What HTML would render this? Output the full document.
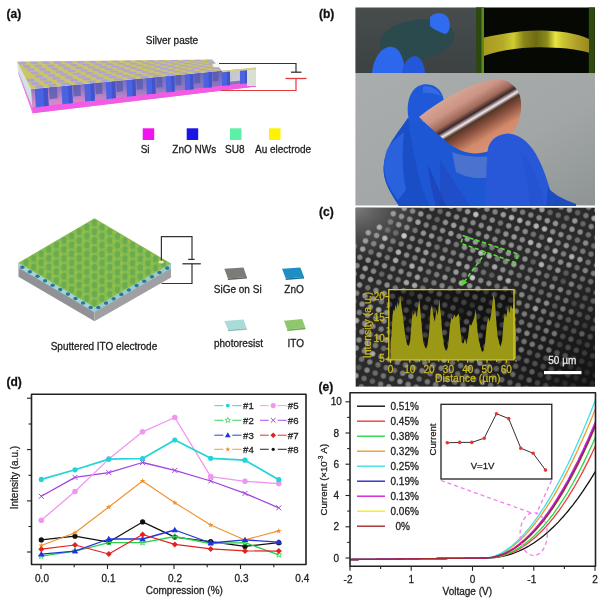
<!DOCTYPE html>
<html><head><meta charset="utf-8"><style>
html,body{margin:0;padding:0;background:#fff;}
body{width:600px;height:604px;overflow:hidden;font-family:"Liberation Sans",sans-serif;}
svg{display:block;filter:blur(0.5px);}
</style></head><body>
<svg width="600" height="604" viewBox="0 0 600 604">
<defs><linearGradient id="gFront" x1="0" y1="0" x2="0" y2="1"><stop offset="0" stop-color="#6466b8"/><stop offset="0.45" stop-color="#9078c0"/><stop offset="0.75" stop-color="#d688c8"/><stop offset="1" stop-color="#e68cd4"/></linearGradient><linearGradient id="gTL" x1="0" y1="0" x2="0" y2="1"><stop offset="0" stop-color="#474c4c"/><stop offset="1" stop-color="#3c4141"/></linearGradient>
<linearGradient id="gBot" x1="0" y1="0" x2="1" y2="1"><stop offset="0" stop-color="#a9adad"/><stop offset="0.6" stop-color="#a2a6a6"/><stop offset="1" stop-color="#8e9494"/></linearGradient>
<linearGradient id="gCu" gradientUnits="userSpaceOnUse" x1="440" y1="95" x2="478" y2="158">
<stop offset="0" stop-color="#dcac9c"/><stop offset="0.25" stop-color="#cc9484"/><stop offset="0.38" stop-color="#a06a5a"/><stop offset="0.45" stop-color="#3c2826"/><stop offset="0.505" stop-color="#f2eaf2"/><stop offset="0.55" stop-color="#553628"/><stop offset="0.66" stop-color="#8c5240"/><stop offset="0.82" stop-color="#d28a6a"/><stop offset="1" stop-color="#da9474"/></linearGradient>
<linearGradient id="gStrip" x1="0" y1="0" x2="1" y2="0"><stop offset="0" stop-color="#a89a22"/><stop offset="0.18" stop-color="#b4aa28"/><stop offset="0.28" stop-color="#d0cc30"/><stop offset="0.38" stop-color="#8a8418"/><stop offset="0.5" stop-color="#6e6c14"/><stop offset="0.6" stop-color="#8c8a1a"/><stop offset="0.68" stop-color="#e8e640"/><stop offset="0.75" stop-color="#ccc432"/><stop offset="0.88" stop-color="#b0a02a"/><stop offset="1" stop-color="#988a22"/></linearGradient>
<radialGradient id="gDark" cx="1" cy="1" r="0.75"><stop offset="0" stop-color="#000" stop-opacity="0.6"/><stop offset="1" stop-color="#000" stop-opacity="0"/></radialGradient>
<radialGradient id="gHaze" cx="0.0" cy="0.0" r="0.3"><stop offset="0" stop-color="#808080" stop-opacity="0.95"/><stop offset="1" stop-color="#6a6a6a" stop-opacity="0"/></radialGradient>

<clipPath id="clipC"><rect x="355.4" y="207.4" width="239.6" height="179.4"/></clipPath>
<radialGradient id="gDot"><stop offset="0" stop-color="#fff" stop-opacity="0.85"/><stop offset="0.6" stop-color="#fff" stop-opacity="0.7"/><stop offset="1" stop-color="#fff" stop-opacity="0"/></radialGradient><clipPath id="clipE"><rect x="350.0" y="392.7" width="245.5" height="173.6"/></clipPath></defs>
<rect width="600" height="604" fill="#fff"/>
<polygon points="17.0,61.5 31.0,89.0 32.5,113.2 18.5,74.0" fill="#cfe3e6" />
<polygon points="18.1,70.9 32.1,106.4 32.5,113.2 18.5,74.0" fill="#f07ae8" />
<polygon points="31.0,89.0 256.0,67.5 256.0,86.5 32.5,113.2" fill="url(#gFront)" />
<polygon points="48.9,87.3 57.0,86.5 57.6,98.3 49.6,99.2" fill="#5058b0" opacity="0.7"/>
<polygon points="73.0,85.0 80.3,84.3 80.9,95.8 73.7,96.6" fill="#5058b0" opacity="0.7"/>
<polygon points="95.2,82.9 102.0,82.2 102.5,93.5 95.7,94.2" fill="#5058b0" opacity="0.7"/>
<polygon points="116.1,80.9 122.7,80.2 123.1,91.3 116.6,92.0" fill="#5058b0" opacity="0.7"/>
<polygon points="136.4,78.9 142.7,78.3 143.1,89.1 136.8,89.8" fill="#5058b0" opacity="0.7"/>
<polygon points="156.1,77.1 162.2,76.5 162.6,87.0 156.4,87.7" fill="#5058b0" opacity="0.7"/>
<polygon points="175.3,75.2 181.3,74.6 181.6,85.0 175.5,85.6" fill="#5058b0" opacity="0.7"/>
<polygon points="194.1,73.4 200.1,72.8 200.3,83.0 194.3,83.6" fill="#5058b0" opacity="0.7"/>
<polygon points="212.6,71.6 218.5,71.1 218.6,81.0 212.8,81.6" fill="#5058b0" opacity="0.7"/>
<polygon points="230.9,69.9 236.7,69.3 236.7,79.1 231.0,79.7" fill="#5058b0" opacity="0.7"/>
<polygon points="248.9,68.2 254.6,67.6 254.6,77.2 248.9,77.8" fill="#5058b0" opacity="0.7"/>
<polygon points="32.1,107.2 256.0,81.8 256.0,86.5 32.5,113.2" fill="#f25ce4" />
<polygon points="222.0,70.7 256.0,67.5 256.0,78.9 222.1,82.6" fill="#d6dcd6" opacity="0.85"/>
<polygon points="34.8,89.1 47.6,87.9 48.7,105.8 35.9,107.2" fill="#4b63e0" />
<polygon points="43.1,88.3 47.6,87.9 48.7,105.8 44.1,106.3" fill="#4254cc" />
<polygon points="61.4,86.6 71.9,85.6 72.8,103.0 62.4,104.2" fill="#4b63e0" />
<polygon points="68.0,85.9 71.9,85.6 72.8,103.0 68.9,103.4" fill="#4254cc" />
<polygon points="84.3,84.4 94.1,83.4 94.9,100.5 85.2,101.6" fill="#4b63e0" />
<polygon points="90.4,83.8 94.1,83.4 94.9,100.5 91.3,100.9" fill="#4254cc" />
<polygon points="105.8,82.3 115.1,81.4 115.8,98.1 106.5,99.2" fill="#4b63e0" />
<polygon points="111.6,81.7 115.1,81.4 115.8,98.1 112.3,98.5" fill="#4254cc" />
<polygon points="126.4,80.3 135.4,79.5 136.0,95.8 127.0,96.8" fill="#4b63e0" />
<polygon points="132.0,79.8 135.4,79.5 136.0,95.8 132.6,96.2" fill="#4254cc" />
<polygon points="146.3,78.4 155.1,77.6 155.6,93.6 146.8,94.6" fill="#4b63e0" />
<polygon points="151.8,77.9 155.1,77.6 155.6,93.6 152.3,93.9" fill="#4254cc" />
<polygon points="165.7,76.5 174.3,75.7 174.7,91.4 166.2,92.4" fill="#4b63e0" />
<polygon points="171.1,76.0 174.3,75.7 174.7,91.4 171.5,91.8" fill="#4254cc" />
<polygon points="184.7,74.7 193.2,73.9 193.5,89.3 185.1,90.2" fill="#4b63e0" />
<polygon points="190.0,74.2 193.2,73.9 193.5,89.3 190.3,89.6" fill="#4254cc" />
<polygon points="203.4,72.9 211.7,72.1 211.9,87.2 203.7,88.1" fill="#4b63e0" />
<polygon points="208.6,72.4 211.7,72.1 211.9,87.2 208.8,87.5" fill="#4254cc" />
<polygon points="221.8,71.2 230.0,70.4 230.1,85.1 222.0,86.0" fill="#4b63e0" />
<polygon points="226.9,70.7 230.0,70.4 230.1,85.1 227.0,85.4" fill="#4254cc" />
<polygon points="239.9,69.4 248.0,68.7 248.0,83.0 240.0,84.0" fill="#4b63e0" />
<polygon points="244.9,68.9 248.0,68.7 248.0,83.0 245.0,83.4" fill="#4254cc" />
<polygon points="17.0,61.5 214.0,59.5 256.0,67.5 31.0,89.0" fill="#cdc468" />
<polygon points="36.3,88.2 43.9,87.5 42.4,84.8 34.8,85.5" fill="#aca4d4" />
<polygon points="32.0,85.0 39.6,84.4 38.0,81.7 30.6,82.3" fill="#aca4d4" />
<polygon points="27.8,81.8 35.2,81.3 33.7,78.6 26.4,79.1" fill="#aca4d4" />
<polygon points="49.5,87.0 57.2,86.2 55.4,83.7 47.9,84.4" fill="#aca4d4" />
<polygon points="45.0,83.9 52.6,83.3 50.9,80.7 43.4,81.3" fill="#aca4d4" />
<polygon points="40.6,80.8 48.0,80.3 46.4,77.7 39.0,78.2" fill="#aca4d4" />
<polygon points="36.3,77.7 43.6,77.2 42.0,74.7 34.7,75.1" fill="#aca4d4" />
<polygon points="32.0,74.5 39.2,74.1 37.6,71.5 30.5,71.9" fill="#aca4d4" />
<polygon points="27.9,71.3 34.9,71.0 33.4,68.3 26.4,68.6" fill="#aca4d4" />
<polygon points="23.8,68.0 30.7,67.8 29.2,65.1 22.3,65.3" fill="#aca4d4" />
<polygon points="19.8,64.6 26.6,64.5 25.1,61.8 18.3,61.9" fill="#aca4d4" />
<polygon points="62.7,85.7 70.4,85.0 68.5,82.6 60.9,83.2" fill="#aca4d4" />
<polygon points="58.0,82.8 65.6,82.2 63.7,79.7 56.3,80.3" fill="#aca4d4" />
<polygon points="53.4,79.9 60.9,79.3 59.0,76.9 51.7,77.4" fill="#aca4d4" />
<polygon points="48.9,76.9 56.2,76.4 54.4,73.9 47.2,74.4" fill="#aca4d4" />
<polygon points="44.4,73.8 51.6,73.5 49.9,71.0 42.8,71.3" fill="#aca4d4" />
<polygon points="40.1,70.7 47.1,70.4 45.4,67.9 38.4,68.2" fill="#aca4d4" />
<polygon points="35.8,67.6 42.7,67.4 41.0,64.8 34.1,65.0" fill="#aca4d4" />
<polygon points="31.5,64.4 38.4,64.2 36.7,61.7 30.0,61.8" fill="#aca4d4" />
<polygon points="75.9,84.5 83.6,83.7 81.5,81.4 74.0,82.1" fill="#aca4d4" />
<polygon points="71.0,81.7 78.6,81.1 76.6,78.8 69.1,79.3" fill="#aca4d4" />
<polygon points="66.2,78.9 73.7,78.4 71.7,76.0 64.3,76.5" fill="#aca4d4" />
<polygon points="61.5,76.1 68.8,75.6 66.8,73.2 59.6,73.6" fill="#aca4d4" />
<polygon points="56.8,73.2 64.0,72.8 62.1,70.4 55.0,70.7" fill="#aca4d4" />
<polygon points="52.2,70.2 59.3,69.9 57.4,67.5 50.4,67.7" fill="#aca4d4" />
<polygon points="47.7,67.2 54.7,67.0 52.8,64.6 46.0,64.7" fill="#aca4d4" />
<polygon points="43.3,64.1 50.1,64.0 48.3,61.6 41.6,61.6" fill="#aca4d4" />
<polygon points="89.2,83.2 96.8,82.5 94.6,80.3 87.0,81.0" fill="#aca4d4" />
<polygon points="84.1,80.6 91.6,80.0 89.4,77.8 82.0,78.3" fill="#aca4d4" />
<polygon points="79.0,78.0 86.5,77.4 84.3,75.2 77.0,75.7" fill="#aca4d4" />
<polygon points="74.1,75.2 81.4,74.8 79.3,72.5 72.1,72.9" fill="#aca4d4" />
<polygon points="69.2,72.5 76.4,72.1 74.3,69.8 67.2,70.2" fill="#aca4d4" />
<polygon points="64.4,69.7 71.5,69.4 69.4,67.1 62.5,67.3" fill="#aca4d4" />
<polygon points="59.7,66.8 66.7,66.6 64.6,64.3 57.8,64.4" fill="#aca4d4" />
<polygon points="55.1,63.9 61.9,63.7 59.9,61.4 53.2,61.5" fill="#aca4d4" />
<polygon points="102.4,81.9 110.0,81.2 107.7,79.2 100.1,79.8" fill="#aca4d4" />
<polygon points="97.1,79.5 104.6,78.8 102.3,76.8 94.8,77.3" fill="#aca4d4" />
<polygon points="91.8,77.0 99.3,76.4 96.9,74.3 89.6,74.8" fill="#aca4d4" />
<polygon points="86.7,74.4 94.0,73.9 91.7,71.8 84.5,72.2" fill="#aca4d4" />
<polygon points="81.6,71.8 88.8,71.4 86.5,69.3 79.5,69.6" fill="#aca4d4" />
<polygon points="76.6,69.1 83.7,68.8 81.5,66.7 74.5,66.9" fill="#aca4d4" />
<polygon points="71.7,66.4 78.7,66.2 76.5,64.0 69.6,64.2" fill="#aca4d4" />
<polygon points="66.9,63.6 73.7,63.5 71.5,61.3 64.8,61.4" fill="#aca4d4" />
<polygon points="115.6,80.7 123.3,80.0 120.7,78.0 113.1,78.7" fill="#aca4d4" />
<polygon points="110.1,78.4 117.6,77.7 115.1,75.8 107.7,76.3" fill="#aca4d4" />
<polygon points="104.7,76.0 112.1,75.5 109.6,73.5 102.3,74.0" fill="#aca4d4" />
<polygon points="99.3,73.6 106.6,73.1 104.1,71.1 96.9,71.5" fill="#aca4d4" />
<polygon points="94.0,71.1 101.2,70.7 98.8,68.7 91.7,69.0" fill="#aca4d4" />
<polygon points="88.8,68.6 95.9,68.3 93.5,66.2 86.5,66.5" fill="#aca4d4" />
<polygon points="83.7,66.0 90.6,65.8 88.3,63.7 81.4,63.9" fill="#aca4d4" />
<polygon points="78.6,63.4 85.5,63.2 83.1,61.1 76.4,61.2" fill="#aca4d4" />
<polygon points="128.8,79.4 136.5,78.7 133.8,76.9 126.2,77.5" fill="#aca4d4" />
<polygon points="123.1,77.3 130.6,76.6 128.0,74.8 120.5,75.4" fill="#aca4d4" />
<polygon points="117.5,75.1 124.9,74.5 122.2,72.6 114.9,73.1" fill="#aca4d4" />
<polygon points="111.9,72.8 119.2,72.3 116.6,70.4 109.4,70.8" fill="#aca4d4" />
<polygon points="106.4,70.4 113.6,70.1 111.0,68.1 103.9,68.5" fill="#aca4d4" />
<polygon points="101.0,68.1 108.1,67.8 105.5,65.8 98.5,66.1" fill="#aca4d4" />
<polygon points="95.7,65.6 102.6,65.4 100.1,63.4 93.2,63.6" fill="#aca4d4" />
<polygon points="90.4,63.1 97.3,63.0 94.8,61.0 88.0,61.1" fill="#aca4d4" />
<polygon points="142.0,78.2 149.7,77.5 146.8,75.7 139.2,76.4" fill="#aca4d4" />
<polygon points="136.1,76.2 143.7,75.5 140.8,73.8 133.4,74.4" fill="#aca4d4" />
<polygon points="130.3,74.1 137.7,73.5 134.9,71.8 127.5,72.3" fill="#aca4d4" />
<polygon points="124.5,72.0 131.8,71.5 129.0,69.7 121.8,70.1" fill="#aca4d4" />
<polygon points="118.8,69.8 126.0,69.4 123.2,67.6 116.1,67.9" fill="#aca4d4" />
<polygon points="113.2,67.5 120.3,67.2 117.5,65.4 110.6,65.6" fill="#aca4d4" />
<polygon points="107.7,65.2 114.6,65.0 111.9,63.2 105.1,63.3" fill="#aca4d4" />
<polygon points="102.2,62.9 109.0,62.7 106.4,60.9 99.6,61.0" fill="#aca4d4" />
<polygon points="155.2,76.9 162.9,76.2 159.9,74.6 152.3,75.3" fill="#aca4d4" />
<polygon points="149.1,75.1 156.7,74.4 153.7,72.8 146.2,73.4" fill="#aca4d4" />
<polygon points="143.1,73.1 150.5,72.6 147.5,70.9 140.2,71.4" fill="#aca4d4" />
<polygon points="137.1,71.1 144.4,70.7 141.5,69.0 134.2,69.4" fill="#aca4d4" />
<polygon points="131.2,69.1 138.4,68.7 135.5,67.0 128.4,67.3" fill="#aca4d4" />
<polygon points="125.4,67.0 132.5,66.7 129.6,65.0 122.6,65.2" fill="#aca4d4" />
<polygon points="119.6,64.8 126.6,64.6 123.7,62.9 116.9,63.0" fill="#aca4d4" />
<polygon points="114.0,62.6 120.8,62.5 118.0,60.7 111.2,60.8" fill="#aca4d4" />
<polygon points="168.5,75.7 176.1,75.0 172.9,73.5 165.4,74.1" fill="#aca4d4" />
<polygon points="162.1,73.9 169.7,73.3 166.5,71.8 159.1,72.4" fill="#aca4d4" />
<polygon points="155.9,72.2 163.3,71.6 160.2,70.1 152.8,70.6" fill="#aca4d4" />
<polygon points="149.7,70.3 157.0,69.8 153.9,68.3 146.7,68.7" fill="#aca4d4" />
<polygon points="143.6,68.4 150.8,68.0 147.7,66.4 140.6,66.8" fill="#aca4d4" />
<polygon points="137.6,66.5 144.6,66.1 141.6,64.5 134.6,64.8" fill="#aca4d4" />
<polygon points="131.6,64.5 138.6,64.2 135.6,62.6 128.7,62.8" fill="#aca4d4" />
<polygon points="125.8,62.4 132.6,62.2 129.6,60.6 122.9,60.7" fill="#aca4d4" />
<polygon points="181.7,74.4 189.4,73.7 186.0,72.3 178.4,73.0" fill="#aca4d4" />
<polygon points="175.1,72.8 182.7,72.2 179.4,70.8 171.9,71.4" fill="#aca4d4" />
<polygon points="168.7,71.2 176.1,70.6 172.8,69.2 165.5,69.7" fill="#aca4d4" />
<polygon points="162.3,69.5 169.6,69.0 166.3,67.6 159.1,68.0" fill="#aca4d4" />
<polygon points="156.0,67.7 163.2,67.3 159.9,65.9 152.8,66.2" fill="#aca4d4" />
<polygon points="149.8,65.9 156.8,65.6 153.6,64.1 146.6,64.4" fill="#aca4d4" />
<polygon points="143.6,64.1 150.6,63.8 147.4,62.3 140.5,62.5" fill="#aca4d4" />
<polygon points="137.5,62.1 144.4,62.0 141.2,60.5 134.5,60.6" fill="#aca4d4" />
<polygon points="194.9,73.2 202.6,72.4 199.0,71.2 191.5,71.8" fill="#aca4d4" />
<polygon points="188.2,71.7 195.7,71.1 192.2,69.8 184.7,70.4" fill="#aca4d4" />
<polygon points="181.5,70.2 188.9,69.7 185.4,68.4 178.1,68.8" fill="#aca4d4" />
<polygon points="174.9,68.7 182.2,68.2 178.8,66.9 171.6,67.3" fill="#aca4d4" />
<polygon points="168.4,67.0 175.6,66.7 172.2,65.3 165.1,65.6" fill="#aca4d4" />
<polygon points="162.0,65.4 169.0,65.1 165.6,63.7 158.7,64.0" fill="#aca4d4" />
<polygon points="155.6,63.7 162.5,63.4 159.2,62.0 152.3,62.2" fill="#aca4d4" />
<polygon points="149.3,61.9 156.1,61.7 152.8,60.3 146.1,60.4" fill="#aca4d4" />
<polygon points="208.1,71.9 215.8,71.2 212.1,70.0 204.5,70.7" fill="#aca4d4" />
<polygon points="201.2,70.6 208.7,70.0 205.0,68.8 197.6,69.4" fill="#aca4d4" />
<polygon points="194.3,69.3 201.7,68.7 198.1,67.5 190.8,68.0" fill="#aca4d4" />
<polygon points="187.5,67.8 194.8,67.4 191.2,66.2 184.0,66.6" fill="#aca4d4" />
<polygon points="180.8,66.4 188.0,66.0 184.4,64.7 177.3,65.1" fill="#aca4d4" />
<polygon points="174.1,64.8 181.2,64.5 177.7,63.3 170.7,63.5" fill="#aca4d4" />
<polygon points="167.6,63.3 174.5,63.0 171.0,61.8 164.2,61.9" fill="#aca4d4" />
<polygon points="161.1,61.6 167.9,61.5 164.4,60.2 157.7,60.3" fill="#aca4d4" />
<polygon points="221.3,70.7 229.0,69.9 225.1,68.9 217.6,69.6" fill="#aca4d4" />
<polygon points="214.2,69.5 221.7,68.9 217.9,67.8 210.4,68.4" fill="#aca4d4" />
<polygon points="207.1,68.3 214.5,67.7 210.7,66.7 203.4,67.1" fill="#aca4d4" />
<polygon points="200.1,67.0 207.4,66.5 203.6,65.4 196.4,65.9" fill="#aca4d4" />
<polygon points="193.2,65.7 200.4,65.3 196.6,64.2 189.5,64.5" fill="#aca4d4" />
<polygon points="186.3,64.3 193.4,64.0 189.7,62.9 182.7,63.1" fill="#aca4d4" />
<polygon points="179.6,62.9 186.5,62.7 182.8,61.5 176.0,61.7" fill="#aca4d4" />
<polygon points="172.9,61.4 179.7,61.2 176.0,60.1 169.3,60.1" fill="#aca4d4" />
<polygon points="234.6,69.4 242.2,68.7 238.2,67.8 230.6,68.4" fill="#aca4d4" />
<polygon points="227.2,68.4 234.7,67.7 230.7,66.8 223.3,67.4" fill="#aca4d4" />
<polygon points="219.9,67.3 227.3,66.8 223.4,65.8 216.0,66.3" fill="#aca4d4" />
<polygon points="212.7,66.2 220.0,65.7 216.1,64.7 208.9,65.1" fill="#aca4d4" />
<polygon points="205.6,65.0 212.8,64.6 208.9,63.6 201.8,63.9" fill="#aca4d4" />
<polygon points="198.5,63.8 205.6,63.5 201.7,62.4 194.7,62.7" fill="#aca4d4" />
<polygon points="191.5,62.5 198.5,62.3 194.6,61.2 187.8,61.4" fill="#aca4d4" />
<polygon points="184.6,61.1 191.5,61.0 187.7,59.9 180.9,60.0" fill="#aca4d4" />
<polygon points="247.8,68.2 255.4,67.4 251.2,66.6 243.7,67.3" fill="#aca4d4" />
<polygon points="240.2,67.3 247.8,66.6 243.6,65.8 236.1,66.4" fill="#aca4d4" />
<polygon points="232.7,66.4 240.1,65.8 236.0,64.9 228.7,65.4" fill="#aca4d4" />
<polygon points="225.3,65.4 232.6,64.9 228.5,64.0 221.3,64.4" fill="#aca4d4" />
<polygon points="218.0,64.3 225.2,63.9 221.1,63.0 214.0,63.4" fill="#aca4d4" />
<polygon points="210.7,63.2 217.8,62.9 213.7,62.0 206.8,62.3" fill="#aca4d4" />
<polygon points="203.5,62.1 210.5,61.9 206.5,60.9 199.6,61.1" fill="#aca4d4" />
<polygon points="196.4,60.9 203.3,60.8 199.3,59.8 192.5,59.9" fill="#aca4d4" />
<polygon points="215.5,61.7 222.5,61.5 218.3,60.7 211.4,60.8" fill="#aca4d4" />
<polygon points="208.2,60.6 215.0,60.5 210.9,59.7 204.1,59.7" fill="#aca4d4" />
<polygon points="247.0,68.0 256.0,68.5 256.0,86.0 247.0,86.0" fill="#d7e0d2" />
<polygon points="212.0,59.3 258.0,59.3 258.0,67.4 222.0,70.7" fill="#ffffff" />
<polygon points="222.0,70.7 256.0,67.5 256.0,69.5 222.0,72.3" fill="#d8cf86" />
<ellipse cx="216.5" cy="65.3" rx="4" ry="1.9" fill="#f6f6f6"/>
<path d="M219 63.5 H296 V72" fill="none" stroke="#333" stroke-width="1.2"/>
<path d="M291 72.2 H301.5" stroke="#333" stroke-width="1.3"/>
<path d="M285.5 78.5 H306.5" stroke="#e23b3b" stroke-width="1.3"/>
<path d="M296 78.5 V90.5 H221" fill="none" stroke="#e23b3b" stroke-width="1.2"/>
<text x="145.8" y="43.6" font-size="10" fill="#222" font-family="Liberation Sans, sans-serif" stroke="#222" stroke-width="0.28">Silver paste</text>
<rect x="142.7" y="128.3" width="11.5" height="11.7" fill="#f214ee"/>
<rect x="186.7" y="128.3" width="11.5" height="11.7" fill="#1a14e6"/>
<rect x="230.0" y="128.3" width="11.5" height="11.7" fill="#5cf0a6"/>
<rect x="269.0" y="128.3" width="11.5" height="11.7" fill="#fff200"/>
<text x="140.7" y="153.3" font-size="10" fill="#222" font-family="Liberation Sans, sans-serif" stroke="#222" stroke-width="0.28">Si</text>
<text x="172.3" y="153.3" font-size="10" fill="#222" font-family="Liberation Sans, sans-serif" stroke="#222" stroke-width="0.28">ZnO NWs</text>
<text x="225.0" y="153.3" font-size="10" fill="#222" font-family="Liberation Sans, sans-serif" stroke="#222" stroke-width="0.28">SU8</text>
<text x="255.0" y="153.3" font-size="10" fill="#222" font-family="Liberation Sans, sans-serif" stroke="#222" stroke-width="0.28">Au electrode</text>
<polygon points="18.5,262.7 94.5,307.3 94.5,321.3 18.5,276.7" fill="#929296" />
<polygon points="94.5,307.3 171.0,263.5 171.0,277.5 94.5,321.3" fill="#a0a0a4" />
<polygon points="18.5,262.7 94.5,307.3 94.5,312.3 18.5,267.7" fill="#a6d2d2" />
<polygon points="94.5,307.3 171.0,263.5 171.0,268.5 94.5,312.3" fill="#9ccaca" />
<ellipse cx="22.3" cy="267.3" rx="2.2" ry="1.8" fill="#237aa0"/>
<ellipse cx="98.3" cy="307.5" rx="2.2" ry="1.8" fill="#237aa0"/>
<ellipse cx="29.9" cy="271.8" rx="2.2" ry="1.8" fill="#237aa0"/>
<ellipse cx="106.0" cy="303.1" rx="2.2" ry="1.8" fill="#237aa0"/>
<ellipse cx="37.5" cy="276.2" rx="2.2" ry="1.8" fill="#237aa0"/>
<ellipse cx="113.6" cy="298.8" rx="2.2" ry="1.8" fill="#237aa0"/>
<ellipse cx="45.1" cy="280.7" rx="2.2" ry="1.8" fill="#237aa0"/>
<ellipse cx="121.3" cy="294.4" rx="2.2" ry="1.8" fill="#237aa0"/>
<ellipse cx="52.7" cy="285.2" rx="2.2" ry="1.8" fill="#237aa0"/>
<ellipse cx="128.9" cy="290.0" rx="2.2" ry="1.8" fill="#237aa0"/>
<ellipse cx="60.3" cy="289.6" rx="2.2" ry="1.8" fill="#237aa0"/>
<ellipse cx="136.6" cy="285.6" rx="2.2" ry="1.8" fill="#237aa0"/>
<ellipse cx="67.9" cy="294.1" rx="2.2" ry="1.8" fill="#237aa0"/>
<ellipse cx="144.2" cy="281.2" rx="2.2" ry="1.8" fill="#237aa0"/>
<ellipse cx="75.5" cy="298.5" rx="2.2" ry="1.8" fill="#237aa0"/>
<ellipse cx="151.9" cy="276.8" rx="2.2" ry="1.8" fill="#237aa0"/>
<ellipse cx="83.1" cy="303.0" rx="2.2" ry="1.8" fill="#237aa0"/>
<ellipse cx="159.5" cy="272.5" rx="2.2" ry="1.8" fill="#237aa0"/>
<ellipse cx="90.7" cy="307.5" rx="2.2" ry="1.8" fill="#237aa0"/>
<ellipse cx="167.2" cy="268.1" rx="2.2" ry="1.8" fill="#237aa0"/>
<polygon points="94.5,218.3 171.0,263.5 94.5,307.3 18.5,262.7" fill="#84bc4e" />
<ellipse cx="94.5" cy="222.8" rx="2.6" ry="3.4" fill="#5aa255" opacity="0.6"/>
<ellipse cx="98.3" cy="223.3" rx="1.6" ry="1.8" fill="#a4c044" opacity="0.6"/>
<ellipse cx="102.2" cy="227.3" rx="2.6" ry="3.4" fill="#5aa255" opacity="0.6"/>
<ellipse cx="106.0" cy="227.8" rx="1.6" ry="1.8" fill="#a4c044" opacity="0.6"/>
<ellipse cx="109.8" cy="231.8" rx="2.6" ry="3.4" fill="#5aa255" opacity="0.6"/>
<ellipse cx="113.6" cy="232.3" rx="1.6" ry="1.8" fill="#a4c044" opacity="0.6"/>
<ellipse cx="117.5" cy="236.3" rx="2.6" ry="3.4" fill="#5aa255" opacity="0.6"/>
<ellipse cx="121.3" cy="236.8" rx="1.6" ry="1.8" fill="#a4c044" opacity="0.6"/>
<ellipse cx="125.1" cy="240.8" rx="2.6" ry="3.4" fill="#5aa255" opacity="0.6"/>
<ellipse cx="128.9" cy="241.3" rx="1.6" ry="1.8" fill="#a4c044" opacity="0.6"/>
<ellipse cx="132.8" cy="245.4" rx="2.6" ry="3.4" fill="#5aa255" opacity="0.6"/>
<ellipse cx="136.6" cy="245.9" rx="1.6" ry="1.8" fill="#a4c044" opacity="0.6"/>
<ellipse cx="140.4" cy="249.9" rx="2.6" ry="3.4" fill="#5aa255" opacity="0.6"/>
<ellipse cx="144.2" cy="250.4" rx="1.6" ry="1.8" fill="#a4c044" opacity="0.6"/>
<ellipse cx="148.1" cy="254.4" rx="2.6" ry="3.4" fill="#5aa255" opacity="0.6"/>
<ellipse cx="151.9" cy="254.9" rx="1.6" ry="1.8" fill="#a4c044" opacity="0.6"/>
<ellipse cx="155.7" cy="258.9" rx="2.6" ry="3.4" fill="#5aa255" opacity="0.6"/>
<ellipse cx="159.5" cy="259.4" rx="1.6" ry="1.8" fill="#a4c044" opacity="0.6"/>
<ellipse cx="163.4" cy="263.4" rx="2.6" ry="3.4" fill="#5aa255" opacity="0.6"/>
<ellipse cx="167.2" cy="263.9" rx="1.6" ry="1.8" fill="#a4c044" opacity="0.6"/>
<ellipse cx="86.9" cy="227.2" rx="2.6" ry="3.4" fill="#5aa255" opacity="0.6"/>
<ellipse cx="90.7" cy="227.7" rx="1.6" ry="1.8" fill="#a4c044" opacity="0.6"/>
<ellipse cx="94.6" cy="231.7" rx="2.6" ry="3.4" fill="#5aa255" opacity="0.6"/>
<ellipse cx="98.4" cy="232.2" rx="1.6" ry="1.8" fill="#a4c044" opacity="0.6"/>
<ellipse cx="102.2" cy="236.2" rx="2.6" ry="3.4" fill="#5aa255" opacity="0.6"/>
<ellipse cx="106.0" cy="236.7" rx="1.6" ry="1.8" fill="#a4c044" opacity="0.6"/>
<ellipse cx="109.8" cy="240.7" rx="2.6" ry="3.4" fill="#5aa255" opacity="0.6"/>
<ellipse cx="113.6" cy="241.2" rx="1.6" ry="1.8" fill="#a4c044" opacity="0.6"/>
<ellipse cx="117.5" cy="245.3" rx="2.6" ry="3.4" fill="#5aa255" opacity="0.6"/>
<ellipse cx="121.3" cy="245.8" rx="1.6" ry="1.8" fill="#a4c044" opacity="0.6"/>
<ellipse cx="125.1" cy="249.8" rx="2.6" ry="3.4" fill="#5aa255" opacity="0.6"/>
<ellipse cx="128.9" cy="250.3" rx="1.6" ry="1.8" fill="#a4c044" opacity="0.6"/>
<ellipse cx="132.8" cy="254.3" rx="2.6" ry="3.4" fill="#5aa255" opacity="0.6"/>
<ellipse cx="136.6" cy="254.8" rx="1.6" ry="1.8" fill="#a4c044" opacity="0.6"/>
<ellipse cx="140.4" cy="258.8" rx="2.6" ry="3.4" fill="#5aa255" opacity="0.6"/>
<ellipse cx="144.2" cy="259.3" rx="1.6" ry="1.8" fill="#a4c044" opacity="0.6"/>
<ellipse cx="148.1" cy="263.3" rx="2.6" ry="3.4" fill="#5aa255" opacity="0.6"/>
<ellipse cx="151.9" cy="263.8" rx="1.6" ry="1.8" fill="#a4c044" opacity="0.6"/>
<ellipse cx="155.7" cy="267.8" rx="2.6" ry="3.4" fill="#5aa255" opacity="0.6"/>
<ellipse cx="159.5" cy="268.3" rx="1.6" ry="1.8" fill="#a4c044" opacity="0.6"/>
<ellipse cx="79.3" cy="231.7" rx="2.6" ry="3.4" fill="#5aa255" opacity="0.6"/>
<ellipse cx="83.1" cy="232.2" rx="1.6" ry="1.8" fill="#a4c044" opacity="0.6"/>
<ellipse cx="87.0" cy="236.2" rx="2.6" ry="3.4" fill="#5aa255" opacity="0.6"/>
<ellipse cx="90.8" cy="236.7" rx="1.6" ry="1.8" fill="#a4c044" opacity="0.6"/>
<ellipse cx="94.6" cy="240.7" rx="2.6" ry="3.4" fill="#5aa255" opacity="0.6"/>
<ellipse cx="98.4" cy="241.2" rx="1.6" ry="1.8" fill="#a4c044" opacity="0.6"/>
<ellipse cx="102.2" cy="245.2" rx="2.6" ry="3.4" fill="#5aa255" opacity="0.6"/>
<ellipse cx="106.0" cy="245.7" rx="1.6" ry="1.8" fill="#a4c044" opacity="0.6"/>
<ellipse cx="109.9" cy="249.7" rx="2.6" ry="3.4" fill="#5aa255" opacity="0.6"/>
<ellipse cx="113.7" cy="250.2" rx="1.6" ry="1.8" fill="#a4c044" opacity="0.6"/>
<ellipse cx="117.5" cy="254.2" rx="2.6" ry="3.4" fill="#5aa255" opacity="0.6"/>
<ellipse cx="121.3" cy="254.7" rx="1.6" ry="1.8" fill="#a4c044" opacity="0.6"/>
<ellipse cx="125.1" cy="258.7" rx="2.6" ry="3.4" fill="#5aa255" opacity="0.6"/>
<ellipse cx="128.9" cy="259.2" rx="1.6" ry="1.8" fill="#a4c044" opacity="0.6"/>
<ellipse cx="132.8" cy="263.2" rx="2.6" ry="3.4" fill="#5aa255" opacity="0.6"/>
<ellipse cx="136.6" cy="263.7" rx="1.6" ry="1.8" fill="#a4c044" opacity="0.6"/>
<ellipse cx="140.4" cy="267.7" rx="2.6" ry="3.4" fill="#5aa255" opacity="0.6"/>
<ellipse cx="144.2" cy="268.2" rx="1.6" ry="1.8" fill="#a4c044" opacity="0.6"/>
<ellipse cx="148.1" cy="272.2" rx="2.6" ry="3.4" fill="#5aa255" opacity="0.6"/>
<ellipse cx="151.9" cy="272.7" rx="1.6" ry="1.8" fill="#a4c044" opacity="0.6"/>
<ellipse cx="71.7" cy="236.1" rx="2.6" ry="3.4" fill="#5aa255" opacity="0.6"/>
<ellipse cx="75.5" cy="236.6" rx="1.6" ry="1.8" fill="#a4c044" opacity="0.6"/>
<ellipse cx="79.3" cy="240.6" rx="2.6" ry="3.4" fill="#5aa255" opacity="0.6"/>
<ellipse cx="83.1" cy="241.1" rx="1.6" ry="1.8" fill="#a4c044" opacity="0.6"/>
<ellipse cx="87.0" cy="245.1" rx="2.6" ry="3.4" fill="#5aa255" opacity="0.6"/>
<ellipse cx="90.8" cy="245.6" rx="1.6" ry="1.8" fill="#a4c044" opacity="0.6"/>
<ellipse cx="94.6" cy="249.6" rx="2.6" ry="3.4" fill="#5aa255" opacity="0.6"/>
<ellipse cx="98.4" cy="250.1" rx="1.6" ry="1.8" fill="#a4c044" opacity="0.6"/>
<ellipse cx="102.2" cy="254.1" rx="2.6" ry="3.4" fill="#5aa255" opacity="0.6"/>
<ellipse cx="106.0" cy="254.6" rx="1.6" ry="1.8" fill="#a4c044" opacity="0.6"/>
<ellipse cx="109.9" cy="258.6" rx="2.6" ry="3.4" fill="#5aa255" opacity="0.6"/>
<ellipse cx="113.7" cy="259.1" rx="1.6" ry="1.8" fill="#a4c044" opacity="0.6"/>
<ellipse cx="117.5" cy="263.1" rx="2.6" ry="3.4" fill="#5aa255" opacity="0.6"/>
<ellipse cx="121.3" cy="263.6" rx="1.6" ry="1.8" fill="#a4c044" opacity="0.6"/>
<ellipse cx="125.1" cy="267.6" rx="2.6" ry="3.4" fill="#5aa255" opacity="0.6"/>
<ellipse cx="128.9" cy="268.1" rx="1.6" ry="1.8" fill="#a4c044" opacity="0.6"/>
<ellipse cx="132.8" cy="272.1" rx="2.6" ry="3.4" fill="#5aa255" opacity="0.6"/>
<ellipse cx="136.6" cy="272.6" rx="1.6" ry="1.8" fill="#a4c044" opacity="0.6"/>
<ellipse cx="140.4" cy="276.6" rx="2.6" ry="3.4" fill="#5aa255" opacity="0.6"/>
<ellipse cx="144.2" cy="277.1" rx="1.6" ry="1.8" fill="#a4c044" opacity="0.6"/>
<ellipse cx="64.1" cy="240.5" rx="2.6" ry="3.4" fill="#5aa255" opacity="0.6"/>
<ellipse cx="67.9" cy="241.0" rx="1.6" ry="1.8" fill="#a4c044" opacity="0.6"/>
<ellipse cx="71.7" cy="245.0" rx="2.6" ry="3.4" fill="#5aa255" opacity="0.6"/>
<ellipse cx="75.5" cy="245.5" rx="1.6" ry="1.8" fill="#a4c044" opacity="0.6"/>
<ellipse cx="79.4" cy="249.5" rx="2.6" ry="3.4" fill="#5aa255" opacity="0.6"/>
<ellipse cx="83.2" cy="250.0" rx="1.6" ry="1.8" fill="#a4c044" opacity="0.6"/>
<ellipse cx="87.0" cy="254.0" rx="2.6" ry="3.4" fill="#5aa255" opacity="0.6"/>
<ellipse cx="90.8" cy="254.5" rx="1.6" ry="1.8" fill="#a4c044" opacity="0.6"/>
<ellipse cx="94.6" cy="258.5" rx="2.6" ry="3.4" fill="#5aa255" opacity="0.6"/>
<ellipse cx="98.4" cy="259.0" rx="1.6" ry="1.8" fill="#a4c044" opacity="0.6"/>
<ellipse cx="102.3" cy="263.0" rx="2.6" ry="3.4" fill="#5aa255" opacity="0.6"/>
<ellipse cx="106.1" cy="263.5" rx="1.6" ry="1.8" fill="#a4c044" opacity="0.6"/>
<ellipse cx="109.9" cy="267.5" rx="2.6" ry="3.4" fill="#5aa255" opacity="0.6"/>
<ellipse cx="113.7" cy="268.0" rx="1.6" ry="1.8" fill="#a4c044" opacity="0.6"/>
<ellipse cx="117.5" cy="272.0" rx="2.6" ry="3.4" fill="#5aa255" opacity="0.6"/>
<ellipse cx="121.3" cy="272.5" rx="1.6" ry="1.8" fill="#a4c044" opacity="0.6"/>
<ellipse cx="125.1" cy="276.5" rx="2.6" ry="3.4" fill="#5aa255" opacity="0.6"/>
<ellipse cx="128.9" cy="277.0" rx="1.6" ry="1.8" fill="#a4c044" opacity="0.6"/>
<ellipse cx="132.8" cy="281.0" rx="2.6" ry="3.4" fill="#5aa255" opacity="0.6"/>
<ellipse cx="136.6" cy="281.5" rx="1.6" ry="1.8" fill="#a4c044" opacity="0.6"/>
<ellipse cx="56.5" cy="245.0" rx="2.6" ry="3.4" fill="#5aa255" opacity="0.6"/>
<ellipse cx="60.3" cy="245.5" rx="1.6" ry="1.8" fill="#a4c044" opacity="0.6"/>
<ellipse cx="64.1" cy="249.5" rx="2.6" ry="3.4" fill="#5aa255" opacity="0.6"/>
<ellipse cx="67.9" cy="250.0" rx="1.6" ry="1.8" fill="#a4c044" opacity="0.6"/>
<ellipse cx="71.8" cy="253.9" rx="2.6" ry="3.4" fill="#5aa255" opacity="0.6"/>
<ellipse cx="75.6" cy="254.4" rx="1.6" ry="1.8" fill="#a4c044" opacity="0.6"/>
<ellipse cx="79.4" cy="258.4" rx="2.6" ry="3.4" fill="#5aa255" opacity="0.6"/>
<ellipse cx="83.2" cy="258.9" rx="1.6" ry="1.8" fill="#a4c044" opacity="0.6"/>
<ellipse cx="87.0" cy="262.9" rx="2.6" ry="3.4" fill="#5aa255" opacity="0.6"/>
<ellipse cx="90.8" cy="263.4" rx="1.6" ry="1.8" fill="#a4c044" opacity="0.6"/>
<ellipse cx="94.6" cy="267.4" rx="2.6" ry="3.4" fill="#5aa255" opacity="0.6"/>
<ellipse cx="98.4" cy="267.9" rx="1.6" ry="1.8" fill="#a4c044" opacity="0.6"/>
<ellipse cx="102.2" cy="271.9" rx="2.6" ry="3.4" fill="#5aa255" opacity="0.6"/>
<ellipse cx="106.0" cy="272.4" rx="1.6" ry="1.8" fill="#a4c044" opacity="0.6"/>
<ellipse cx="109.9" cy="276.4" rx="2.6" ry="3.4" fill="#5aa255" opacity="0.6"/>
<ellipse cx="113.7" cy="276.9" rx="1.6" ry="1.8" fill="#a4c044" opacity="0.6"/>
<ellipse cx="117.5" cy="280.9" rx="2.6" ry="3.4" fill="#5aa255" opacity="0.6"/>
<ellipse cx="121.3" cy="281.4" rx="1.6" ry="1.8" fill="#a4c044" opacity="0.6"/>
<ellipse cx="125.1" cy="285.3" rx="2.6" ry="3.4" fill="#5aa255" opacity="0.6"/>
<ellipse cx="128.9" cy="285.8" rx="1.6" ry="1.8" fill="#a4c044" opacity="0.6"/>
<ellipse cx="48.9" cy="249.4" rx="2.6" ry="3.4" fill="#5aa255" opacity="0.6"/>
<ellipse cx="52.7" cy="249.9" rx="1.6" ry="1.8" fill="#a4c044" opacity="0.6"/>
<ellipse cx="56.5" cy="253.9" rx="2.6" ry="3.4" fill="#5aa255" opacity="0.6"/>
<ellipse cx="60.3" cy="254.4" rx="1.6" ry="1.8" fill="#a4c044" opacity="0.6"/>
<ellipse cx="64.1" cy="258.4" rx="2.6" ry="3.4" fill="#5aa255" opacity="0.6"/>
<ellipse cx="67.9" cy="258.9" rx="1.6" ry="1.8" fill="#a4c044" opacity="0.6"/>
<ellipse cx="71.8" cy="262.8" rx="2.6" ry="3.4" fill="#5aa255" opacity="0.6"/>
<ellipse cx="75.6" cy="263.3" rx="1.6" ry="1.8" fill="#a4c044" opacity="0.6"/>
<ellipse cx="79.4" cy="267.3" rx="2.6" ry="3.4" fill="#5aa255" opacity="0.6"/>
<ellipse cx="83.2" cy="267.8" rx="1.6" ry="1.8" fill="#a4c044" opacity="0.6"/>
<ellipse cx="87.0" cy="271.8" rx="2.6" ry="3.4" fill="#5aa255" opacity="0.6"/>
<ellipse cx="90.8" cy="272.3" rx="1.6" ry="1.8" fill="#a4c044" opacity="0.6"/>
<ellipse cx="94.6" cy="276.3" rx="2.6" ry="3.4" fill="#5aa255" opacity="0.6"/>
<ellipse cx="98.4" cy="276.8" rx="1.6" ry="1.8" fill="#a4c044" opacity="0.6"/>
<ellipse cx="102.2" cy="280.8" rx="2.6" ry="3.4" fill="#5aa255" opacity="0.6"/>
<ellipse cx="106.0" cy="281.3" rx="1.6" ry="1.8" fill="#a4c044" opacity="0.6"/>
<ellipse cx="109.8" cy="285.2" rx="2.6" ry="3.4" fill="#5aa255" opacity="0.6"/>
<ellipse cx="113.6" cy="285.7" rx="1.6" ry="1.8" fill="#a4c044" opacity="0.6"/>
<ellipse cx="117.5" cy="289.7" rx="2.6" ry="3.4" fill="#5aa255" opacity="0.6"/>
<ellipse cx="121.3" cy="290.2" rx="1.6" ry="1.8" fill="#a4c044" opacity="0.6"/>
<ellipse cx="41.3" cy="253.8" rx="2.6" ry="3.4" fill="#5aa255" opacity="0.6"/>
<ellipse cx="45.1" cy="254.3" rx="1.6" ry="1.8" fill="#a4c044" opacity="0.6"/>
<ellipse cx="48.9" cy="258.3" rx="2.6" ry="3.4" fill="#5aa255" opacity="0.6"/>
<ellipse cx="52.7" cy="258.8" rx="1.6" ry="1.8" fill="#a4c044" opacity="0.6"/>
<ellipse cx="56.5" cy="262.8" rx="2.6" ry="3.4" fill="#5aa255" opacity="0.6"/>
<ellipse cx="60.3" cy="263.3" rx="1.6" ry="1.8" fill="#a4c044" opacity="0.6"/>
<ellipse cx="64.1" cy="267.3" rx="2.6" ry="3.4" fill="#5aa255" opacity="0.6"/>
<ellipse cx="67.9" cy="267.8" rx="1.6" ry="1.8" fill="#a4c044" opacity="0.6"/>
<ellipse cx="71.8" cy="271.7" rx="2.6" ry="3.4" fill="#5aa255" opacity="0.6"/>
<ellipse cx="75.6" cy="272.2" rx="1.6" ry="1.8" fill="#a4c044" opacity="0.6"/>
<ellipse cx="79.4" cy="276.2" rx="2.6" ry="3.4" fill="#5aa255" opacity="0.6"/>
<ellipse cx="83.2" cy="276.7" rx="1.6" ry="1.8" fill="#a4c044" opacity="0.6"/>
<ellipse cx="87.0" cy="280.7" rx="2.6" ry="3.4" fill="#5aa255" opacity="0.6"/>
<ellipse cx="90.8" cy="281.2" rx="1.6" ry="1.8" fill="#a4c044" opacity="0.6"/>
<ellipse cx="94.6" cy="285.2" rx="2.6" ry="3.4" fill="#5aa255" opacity="0.6"/>
<ellipse cx="98.4" cy="285.7" rx="1.6" ry="1.8" fill="#a4c044" opacity="0.6"/>
<ellipse cx="102.2" cy="289.6" rx="2.6" ry="3.4" fill="#5aa255" opacity="0.6"/>
<ellipse cx="106.0" cy="290.1" rx="1.6" ry="1.8" fill="#a4c044" opacity="0.6"/>
<ellipse cx="109.8" cy="294.1" rx="2.6" ry="3.4" fill="#5aa255" opacity="0.6"/>
<ellipse cx="113.6" cy="294.6" rx="1.6" ry="1.8" fill="#a4c044" opacity="0.6"/>
<ellipse cx="33.7" cy="258.3" rx="2.6" ry="3.4" fill="#5aa255" opacity="0.6"/>
<ellipse cx="37.5" cy="258.8" rx="1.6" ry="1.8" fill="#a4c044" opacity="0.6"/>
<ellipse cx="41.3" cy="262.7" rx="2.6" ry="3.4" fill="#5aa255" opacity="0.6"/>
<ellipse cx="45.1" cy="263.2" rx="1.6" ry="1.8" fill="#a4c044" opacity="0.6"/>
<ellipse cx="48.9" cy="267.2" rx="2.6" ry="3.4" fill="#5aa255" opacity="0.6"/>
<ellipse cx="52.7" cy="267.7" rx="1.6" ry="1.8" fill="#a4c044" opacity="0.6"/>
<ellipse cx="56.5" cy="271.7" rx="2.6" ry="3.4" fill="#5aa255" opacity="0.6"/>
<ellipse cx="60.3" cy="272.2" rx="1.6" ry="1.8" fill="#a4c044" opacity="0.6"/>
<ellipse cx="64.1" cy="276.2" rx="2.6" ry="3.4" fill="#5aa255" opacity="0.6"/>
<ellipse cx="67.9" cy="276.7" rx="1.6" ry="1.8" fill="#a4c044" opacity="0.6"/>
<ellipse cx="71.7" cy="280.6" rx="2.6" ry="3.4" fill="#5aa255" opacity="0.6"/>
<ellipse cx="75.5" cy="281.1" rx="1.6" ry="1.8" fill="#a4c044" opacity="0.6"/>
<ellipse cx="79.3" cy="285.1" rx="2.6" ry="3.4" fill="#5aa255" opacity="0.6"/>
<ellipse cx="83.1" cy="285.6" rx="1.6" ry="1.8" fill="#a4c044" opacity="0.6"/>
<ellipse cx="87.0" cy="289.6" rx="2.6" ry="3.4" fill="#5aa255" opacity="0.6"/>
<ellipse cx="90.8" cy="290.1" rx="1.6" ry="1.8" fill="#a4c044" opacity="0.6"/>
<ellipse cx="94.6" cy="294.0" rx="2.6" ry="3.4" fill="#5aa255" opacity="0.6"/>
<ellipse cx="98.4" cy="294.5" rx="1.6" ry="1.8" fill="#a4c044" opacity="0.6"/>
<ellipse cx="102.2" cy="298.5" rx="2.6" ry="3.4" fill="#5aa255" opacity="0.6"/>
<ellipse cx="106.0" cy="299.0" rx="1.6" ry="1.8" fill="#a4c044" opacity="0.6"/>
<ellipse cx="26.1" cy="262.7" rx="2.6" ry="3.4" fill="#5aa255" opacity="0.6"/>
<ellipse cx="29.9" cy="263.2" rx="1.6" ry="1.8" fill="#a4c044" opacity="0.6"/>
<ellipse cx="33.7" cy="267.2" rx="2.6" ry="3.4" fill="#5aa255" opacity="0.6"/>
<ellipse cx="37.5" cy="267.7" rx="1.6" ry="1.8" fill="#a4c044" opacity="0.6"/>
<ellipse cx="41.3" cy="271.6" rx="2.6" ry="3.4" fill="#5aa255" opacity="0.6"/>
<ellipse cx="45.1" cy="272.1" rx="1.6" ry="1.8" fill="#a4c044" opacity="0.6"/>
<ellipse cx="48.9" cy="276.1" rx="2.6" ry="3.4" fill="#5aa255" opacity="0.6"/>
<ellipse cx="52.7" cy="276.6" rx="1.6" ry="1.8" fill="#a4c044" opacity="0.6"/>
<ellipse cx="56.5" cy="280.6" rx="2.6" ry="3.4" fill="#5aa255" opacity="0.6"/>
<ellipse cx="60.3" cy="281.1" rx="1.6" ry="1.8" fill="#a4c044" opacity="0.6"/>
<ellipse cx="64.1" cy="285.0" rx="2.6" ry="3.4" fill="#5aa255" opacity="0.6"/>
<ellipse cx="67.9" cy="285.5" rx="1.6" ry="1.8" fill="#a4c044" opacity="0.6"/>
<ellipse cx="71.7" cy="289.5" rx="2.6" ry="3.4" fill="#5aa255" opacity="0.6"/>
<ellipse cx="75.5" cy="290.0" rx="1.6" ry="1.8" fill="#a4c044" opacity="0.6"/>
<ellipse cx="79.3" cy="294.0" rx="2.6" ry="3.4" fill="#5aa255" opacity="0.6"/>
<ellipse cx="83.1" cy="294.5" rx="1.6" ry="1.8" fill="#a4c044" opacity="0.6"/>
<ellipse cx="86.9" cy="298.4" rx="2.6" ry="3.4" fill="#5aa255" opacity="0.6"/>
<ellipse cx="90.7" cy="298.9" rx="1.6" ry="1.8" fill="#a4c044" opacity="0.6"/>
<ellipse cx="94.5" cy="302.9" rx="2.6" ry="3.4" fill="#5aa255" opacity="0.6"/>
<ellipse cx="98.3" cy="303.4" rx="1.6" ry="1.8" fill="#a4c044" opacity="0.6"/>
<path d="M161.4 261 V236.6 H192 V259.2" fill="none" stroke="#333" stroke-width="1.2"/>
<path d="M188.2 259.4 H194.6" stroke="#333" stroke-width="1.3"/>
<path d="M182.4 263.8 H200.8" stroke="#333" stroke-width="1.3"/>
<path d="M192 263.8 V283.5 H161.6" fill="none" stroke="#333" stroke-width="1.2"/>
<ellipse cx="161.2" cy="262" rx="2.7" ry="1.6" fill="#f2e2c0"/>
<polygon points="224.3,268.8 243.5,267.5 246.8,277.0 227.9,278.5" fill="#7b7b78" />
<polygon points="227.9,278.5 246.8,277.0 246.8,278.5 227.9,280.0" fill="#5e5e5c" />
<polygon points="282.0,268.8 300.4,267.5 304.0,277.0 285.7,278.5" fill="#1e8fc4" />
<polygon points="285.7,278.5 304.0,277.0 304.0,278.5 285.7,280.0" fill="#166e98" />
<polygon points="224.3,321.0 243.5,319.4 246.8,328.2 228.0,329.8" fill="#a9dcd8" />
<polygon points="228.0,329.8 246.8,328.2 246.8,329.7 228.0,331.3" fill="#8bbcb8" />
<polygon points="284.0,320.7 302.2,319.0 305.5,327.8 287.2,329.5" fill="#8ec86e" />
<polygon points="287.2,329.5 305.5,327.8 305.5,329.3 287.2,331.0" fill="#6fa655" />
<text x="213.8" y="292.6" font-size="10" fill="#222" font-family="Liberation Sans, sans-serif" stroke="#222" stroke-width="0.28">SiGe on Si</text>
<text x="284.3" y="292.6" font-size="10" fill="#222" font-family="Liberation Sans, sans-serif" stroke="#222" stroke-width="0.28">ZnO</text>
<text x="214.0" y="347.0" font-size="10" fill="#222" font-family="Liberation Sans, sans-serif" stroke="#222" stroke-width="0.28">photoresist</text>
<text x="287.6" y="347.0" font-size="10" fill="#222" font-family="Liberation Sans, sans-serif" stroke="#222" stroke-width="0.28">ITO</text>
<text x="50.7" y="350.0" font-size="10" fill="#222" font-family="Liberation Sans, sans-serif" stroke="#222" stroke-width="0.28">Sputtered ITO electrode</text>
<rect x="355.4" y="7.5" width="121" height="65.5" fill="url(#gTL)"/>
<ellipse cx="417" cy="39.5" rx="37.5" ry="19.8" transform="rotate(-8 417 39.5)" fill="#2a4a4e"/>
<path d="M430 18 C432 12,446 11,449 20 C451 28,449 33,445 34 C440 32,434 30,430 26 Z" fill="#2f6cf0"/>
<path d="M372 73 C373 62,378 50,388 47 C398 45,404 55,405 73 Z" fill="#2d68ec"/>
<path d="M402 73 C403 64,408 57,414 56 C420 56,424 62,425 73 Z" fill="#2456d8"/>
<rect x="476" y="7.5" width="119" height="65.5" fill="#050803"/>
<rect x="476" y="7.5" width="8" height="65.5" fill="#2e4610"/>
<rect x="481.5" y="7.5" width="2.5" height="65.5" fill="#5a8a1a"/>
<rect x="588.8" y="7.5" width="6" height="65.5" fill="#2e4a10"/>
<path d="M484 37.5 C505 33,525 30,541.5 30.6 C560 31,575 33,589 39 L589 52.7 C575 48.5,560 47.5,540 47.2 C520 47.5,500 50,484 56 Z" fill="url(#gStrip)"/>
<rect x="355.4" y="73" width="239.6" height="132.5" fill="url(#gBot)"/>
<path d="M408 118 C420 118,440 128,455 140 C470 150,490 152,505 150 C520 155,538 165,546 185 L552 206 L399 206 C393 196,385 186,383.7 172 C383 160,387 148,394 138 C399 130,404 124,408 118 Z" fill="#1e57d4"/>
<path d="M408 118 C410 135,414 155,418 172 C421 186,425 196,430 206 L399 206 C393 196,385 186,383.7 172 C383 160,387 148,394 138 Z" fill="#1a4cc4" opacity="0.85"/>
<path d="M440 160 C450 175,460 190,470 206 L440 206 Z" fill="#1f48c0" opacity="0.6"/>
<path d="M452 152 C462 156,478 158,492 156 L494 176 C482 180,466 178,456 172 Z" fill="#7088c8" opacity="0.55"/>
<path d="M386 150 C392 142,398 136,404 132 C402 150,402 170,406 190 L398 200 C390 190,384 178,384 165 Z" fill="#3a76f6" opacity="0.5"/>
<path d="M428 165 C434 178,440 192,446 206 L436 206 C432 192,429 178,428 165 Z" fill="#1a38a8" opacity="0.5"/>
<path d="M409 120 C405 104,410 87,423 84.5 C436 82.5,444 92,444 104 C444 110,443 114,441 118 C432 121,418 122,409 120 Z" fill="#2059d8"/>
<path d="M423 86.5 C430 85,438 89,441 96 C436 94,428 92,423 93 Z" fill="#4a7cf0" opacity="0.5"/>
<path d="M419 117 C440 100,465 86,490 80 C505 77,516 84,520 96 C523 108,520 124,512 134 C503 146,490 153,475 153.5 C462 153,450 146,440 136 C432 129,425 123,419 117 Z" fill="url(#gCu)"/>
<path d="M488 148 C491 139,498 134,508 133.5 C521 134,532 145,539 160 C545 172,549 186,552 196 L555 206 L485 206 C486 190,486 165,488 148 Z" fill="#2858d8"/>
<path d="M548 188 C554 194,562 199,576 204 L576 206 L546 206 Z" fill="#1c4cc0"/>
<path d="M520 150 C530 160,536 175,541 190 L545 206 L530 206 C528 185,524 165,520 150 Z" fill="#2452d2" opacity="0.7"/>
<g clip-path="url(#clipC)">
<rect x="355.4" y="207.4" width="239.6" height="179.4" fill="#2a2a2a"/>
<rect x="355.4" y="207.4" width="239.6" height="179.4" fill="url(#gHaze)"/>
<rect x="355.4" y="207.4" width="239.6" height="179.4" fill="url(#gDark)"/>
<circle cx="354.4" cy="246.3" r="3.5" fill="url(#gDot)" opacity="0.38"/>
<circle cx="351.6" cy="254.5" r="3.5" fill="url(#gDot)" opacity="0.38"/>
<circle cx="368.3" cy="232.7" r="3.5" fill="url(#gDot)" opacity="0.59"/>
<circle cx="365.5" cy="240.9" r="3.5" fill="url(#gDot)" opacity="0.61"/>
<circle cx="362.7" cy="249.1" r="3.5" fill="url(#gDot)" opacity="0.67"/>
<circle cx="359.8" cy="257.3" r="3.5" fill="url(#gDot)" opacity="0.52"/>
<circle cx="357.0" cy="265.6" r="3.5" fill="url(#gDot)" opacity="0.54"/>
<circle cx="354.2" cy="273.8" r="3.5" fill="url(#gDot)" opacity="0.51"/>
<circle cx="351.3" cy="282.0" r="3.5" fill="url(#gDot)" opacity="0.45"/>
<circle cx="379.4" cy="227.3" r="3.5" fill="url(#gDot)" opacity="0.68"/>
<circle cx="376.6" cy="235.5" r="3.5" fill="url(#gDot)" opacity="0.54"/>
<circle cx="373.7" cy="243.7" r="3.5" fill="url(#gDot)" opacity="0.47"/>
<circle cx="370.9" cy="252.0" r="3.5" fill="url(#gDot)" opacity="0.40"/>
<circle cx="368.1" cy="260.2" r="3.5" fill="url(#gDot)" opacity="0.63"/>
<circle cx="365.2" cy="268.4" r="3.5" fill="url(#gDot)" opacity="0.69"/>
<circle cx="362.4" cy="276.6" r="3.5" fill="url(#gDot)" opacity="0.59"/>
<circle cx="359.6" cy="284.9" r="3.5" fill="url(#gDot)" opacity="0.61"/>
<circle cx="356.7" cy="293.1" r="3.5" fill="url(#gDot)" opacity="0.49"/>
<circle cx="353.9" cy="301.3" r="3.5" fill="url(#gDot)" opacity="0.45"/>
<circle cx="351.1" cy="309.5" r="3.5" fill="url(#gDot)" opacity="0.50"/>
<circle cx="393.3" cy="213.7" r="3.5" fill="url(#gDot)" opacity="0.57"/>
<circle cx="390.5" cy="221.9" r="3.5" fill="url(#gDot)" opacity="0.36"/>
<circle cx="387.6" cy="230.1" r="3.5" fill="url(#gDot)" opacity="0.30"/>
<circle cx="384.8" cy="238.3" r="3.5" fill="url(#gDot)" opacity="0.79"/>
<circle cx="382.0" cy="246.6" r="3.5" fill="url(#gDot)" opacity="0.65"/>
<circle cx="379.1" cy="254.8" r="3.5" fill="url(#gDot)" opacity="0.58"/>
<circle cx="376.3" cy="263.0" r="3.5" fill="url(#gDot)" opacity="0.57"/>
<circle cx="373.5" cy="271.2" r="3.5" fill="url(#gDot)" opacity="0.55"/>
<circle cx="370.6" cy="279.5" r="3.5" fill="url(#gDot)" opacity="0.65"/>
<circle cx="367.8" cy="287.7" r="3.5" fill="url(#gDot)" opacity="0.43"/>
<circle cx="365.0" cy="295.9" r="3.5" fill="url(#gDot)" opacity="0.59"/>
<circle cx="362.1" cy="304.1" r="3.5" fill="url(#gDot)" opacity="0.60"/>
<circle cx="359.3" cy="312.4" r="3.5" fill="url(#gDot)" opacity="0.49"/>
<circle cx="356.5" cy="320.6" r="3.5" fill="url(#gDot)" opacity="0.74"/>
<circle cx="353.6" cy="328.8" r="3.5" fill="url(#gDot)" opacity="0.38"/>
<circle cx="350.8" cy="337.0" r="3.5" fill="url(#gDot)" opacity="0.56"/>
<circle cx="404.3" cy="208.3" r="3.5" fill="url(#gDot)" opacity="0.62"/>
<circle cx="401.5" cy="216.5" r="3.5" fill="url(#gDot)" opacity="0.55"/>
<circle cx="398.7" cy="224.7" r="3.5" fill="url(#gDot)" opacity="0.56"/>
<circle cx="395.8" cy="232.9" r="3.5" fill="url(#gDot)" opacity="0.32"/>
<circle cx="393.0" cy="241.2" r="3.5" fill="url(#gDot)" opacity="0.45"/>
<circle cx="390.2" cy="249.4" r="3.5" fill="url(#gDot)" opacity="0.44"/>
<circle cx="387.3" cy="257.6" r="3.5" fill="url(#gDot)" opacity="0.45"/>
<circle cx="384.5" cy="265.8" r="3.5" fill="url(#gDot)" opacity="0.59"/>
<circle cx="381.7" cy="274.1" r="3.5" fill="url(#gDot)" opacity="0.35"/>
<circle cx="378.8" cy="282.3" r="3.5" fill="url(#gDot)" opacity="0.51"/>
<circle cx="376.0" cy="290.5" r="3.5" fill="url(#gDot)" opacity="0.58"/>
<circle cx="373.2" cy="298.7" r="3.5" fill="url(#gDot)" opacity="0.61"/>
<circle cx="370.4" cy="307.0" r="3.5" fill="url(#gDot)" opacity="0.58"/>
<circle cx="367.5" cy="315.2" r="3.5" fill="url(#gDot)" opacity="0.55"/>
<circle cx="364.7" cy="323.4" r="3.5" fill="url(#gDot)" opacity="0.55"/>
<circle cx="361.9" cy="331.7" r="3.5" fill="url(#gDot)" opacity="0.54"/>
<circle cx="359.0" cy="339.9" r="3.5" fill="url(#gDot)" opacity="0.57"/>
<circle cx="356.2" cy="348.1" r="3.5" fill="url(#gDot)" opacity="0.58"/>
<circle cx="353.4" cy="356.3" r="3.5" fill="url(#gDot)" opacity="0.57"/>
<circle cx="350.5" cy="364.6" r="3.5" fill="url(#gDot)" opacity="0.61"/>
<circle cx="415.4" cy="202.9" r="3.5" fill="url(#gDot)" opacity="0.69"/>
<circle cx="412.6" cy="211.1" r="3.5" fill="url(#gDot)" opacity="0.51"/>
<circle cx="409.7" cy="219.3" r="3.5" fill="url(#gDot)" opacity="0.55"/>
<circle cx="406.9" cy="227.5" r="3.5" fill="url(#gDot)" opacity="0.53"/>
<circle cx="404.1" cy="235.8" r="3.5" fill="url(#gDot)" opacity="0.94"/>
<circle cx="401.2" cy="244.0" r="3.5" fill="url(#gDot)" opacity="0.49"/>
<circle cx="398.4" cy="252.2" r="3.5" fill="url(#gDot)" opacity="0.81"/>
<circle cx="395.6" cy="260.4" r="3.5" fill="url(#gDot)" opacity="0.75"/>
<circle cx="392.7" cy="268.7" r="3.5" fill="url(#gDot)" opacity="0.52"/>
<circle cx="389.9" cy="276.9" r="3.5" fill="url(#gDot)" opacity="0.51"/>
<circle cx="387.1" cy="285.1" r="3.5" fill="url(#gDot)" opacity="0.59"/>
<circle cx="384.2" cy="293.4" r="3.5" fill="url(#gDot)" opacity="0.57"/>
<circle cx="381.4" cy="301.6" r="3.5" fill="url(#gDot)" opacity="0.46"/>
<circle cx="378.6" cy="309.8" r="3.5" fill="url(#gDot)" opacity="0.74"/>
<circle cx="375.7" cy="318.0" r="3.5" fill="url(#gDot)" opacity="0.53"/>
<circle cx="372.9" cy="326.3" r="3.5" fill="url(#gDot)" opacity="0.55"/>
<circle cx="370.1" cy="334.5" r="3.5" fill="url(#gDot)" opacity="0.48"/>
<circle cx="367.2" cy="342.7" r="3.5" fill="url(#gDot)" opacity="0.57"/>
<circle cx="364.4" cy="350.9" r="3.5" fill="url(#gDot)" opacity="0.53"/>
<circle cx="361.6" cy="359.2" r="3.5" fill="url(#gDot)" opacity="0.42"/>
<circle cx="358.8" cy="367.4" r="3.5" fill="url(#gDot)" opacity="0.27"/>
<circle cx="355.9" cy="375.6" r="3.5" fill="url(#gDot)" opacity="0.65"/>
<circle cx="353.1" cy="383.8" r="3.5" fill="url(#gDot)" opacity="0.40"/>
<circle cx="423.6" cy="205.7" r="3.5" fill="url(#gDot)" opacity="0.56"/>
<circle cx="420.8" cy="213.9" r="3.5" fill="url(#gDot)" opacity="0.62"/>
<circle cx="418.0" cy="222.2" r="3.5" fill="url(#gDot)" opacity="0.71"/>
<circle cx="415.1" cy="230.4" r="3.5" fill="url(#gDot)" opacity="0.44"/>
<circle cx="412.3" cy="238.6" r="3.5" fill="url(#gDot)" opacity="0.56"/>
<circle cx="409.5" cy="246.8" r="3.5" fill="url(#gDot)" opacity="0.51"/>
<circle cx="406.6" cy="255.1" r="3.5" fill="url(#gDot)" opacity="0.58"/>
<circle cx="403.8" cy="263.3" r="3.5" fill="url(#gDot)" opacity="0.39"/>
<circle cx="401.0" cy="271.5" r="3.5" fill="url(#gDot)" opacity="0.57"/>
<circle cx="398.1" cy="279.7" r="3.5" fill="url(#gDot)" opacity="0.46"/>
<circle cx="395.3" cy="288.0" r="3.5" fill="url(#gDot)" opacity="0.47"/>
<circle cx="392.5" cy="296.2" r="3.5" fill="url(#gDot)" opacity="0.61"/>
<circle cx="389.6" cy="304.4" r="3.5" fill="url(#gDot)" opacity="0.58"/>
<circle cx="386.8" cy="312.6" r="3.5" fill="url(#gDot)" opacity="0.60"/>
<circle cx="384.0" cy="320.9" r="3.5" fill="url(#gDot)" opacity="0.57"/>
<circle cx="381.1" cy="329.1" r="3.5" fill="url(#gDot)" opacity="0.50"/>
<circle cx="378.3" cy="337.3" r="3.5" fill="url(#gDot)" opacity="0.50"/>
<circle cx="375.5" cy="345.5" r="3.5" fill="url(#gDot)" opacity="0.47"/>
<circle cx="372.6" cy="353.8" r="3.5" fill="url(#gDot)" opacity="0.77"/>
<circle cx="369.8" cy="362.0" r="3.5" fill="url(#gDot)" opacity="0.51"/>
<circle cx="367.0" cy="370.2" r="3.5" fill="url(#gDot)" opacity="0.55"/>
<circle cx="364.1" cy="378.4" r="3.5" fill="url(#gDot)" opacity="0.40"/>
<circle cx="361.3" cy="386.7" r="3.5" fill="url(#gDot)" opacity="0.43"/>
<circle cx="431.9" cy="208.5" r="3.5" fill="url(#gDot)" opacity="0.62"/>
<circle cx="429.0" cy="216.8" r="3.5" fill="url(#gDot)" opacity="0.48"/>
<circle cx="426.2" cy="225.0" r="3.5" fill="url(#gDot)" opacity="0.51"/>
<circle cx="423.4" cy="233.2" r="3.5" fill="url(#gDot)" opacity="0.63"/>
<circle cx="420.5" cy="241.4" r="3.5" fill="url(#gDot)" opacity="0.50"/>
<circle cx="417.7" cy="249.7" r="3.5" fill="url(#gDot)" opacity="0.64"/>
<circle cx="414.9" cy="257.9" r="3.5" fill="url(#gDot)" opacity="0.49"/>
<circle cx="412.0" cy="266.1" r="3.5" fill="url(#gDot)" opacity="0.78"/>
<circle cx="409.2" cy="274.3" r="3.5" fill="url(#gDot)" opacity="0.53"/>
<circle cx="406.4" cy="282.6" r="3.5" fill="url(#gDot)" opacity="0.73"/>
<circle cx="403.5" cy="290.8" r="3.5" fill="url(#gDot)" opacity="0.55"/>
<circle cx="400.7" cy="299.0" r="3.5" fill="url(#gDot)" opacity="0.53"/>
<circle cx="397.9" cy="307.2" r="3.5" fill="url(#gDot)" opacity="0.42"/>
<circle cx="395.0" cy="315.5" r="3.5" fill="url(#gDot)" opacity="0.39"/>
<circle cx="392.2" cy="323.7" r="3.5" fill="url(#gDot)" opacity="0.49"/>
<circle cx="389.4" cy="331.9" r="3.5" fill="url(#gDot)" opacity="0.55"/>
<circle cx="386.5" cy="340.1" r="3.5" fill="url(#gDot)" opacity="0.63"/>
<circle cx="383.7" cy="348.4" r="3.5" fill="url(#gDot)" opacity="0.39"/>
<circle cx="380.9" cy="356.6" r="3.5" fill="url(#gDot)" opacity="0.45"/>
<circle cx="378.0" cy="364.8" r="3.5" fill="url(#gDot)" opacity="0.40"/>
<circle cx="375.2" cy="373.1" r="3.5" fill="url(#gDot)" opacity="0.39"/>
<circle cx="372.4" cy="381.3" r="3.5" fill="url(#gDot)" opacity="0.33"/>
<circle cx="369.5" cy="389.5" r="3.5" fill="url(#gDot)" opacity="0.44"/>
<circle cx="442.9" cy="203.1" r="3.5" fill="url(#gDot)" opacity="0.49"/>
<circle cx="440.1" cy="211.4" r="3.5" fill="url(#gDot)" opacity="0.36"/>
<circle cx="437.2" cy="219.6" r="3.5" fill="url(#gDot)" opacity="0.33"/>
<circle cx="434.4" cy="227.8" r="3.5" fill="url(#gDot)" opacity="0.46"/>
<circle cx="431.6" cy="236.0" r="3.5" fill="url(#gDot)" opacity="0.63"/>
<circle cx="428.7" cy="244.3" r="3.5" fill="url(#gDot)" opacity="0.62"/>
<circle cx="425.9" cy="252.5" r="3.5" fill="url(#gDot)" opacity="0.68"/>
<circle cx="423.1" cy="260.7" r="3.5" fill="url(#gDot)" opacity="0.62"/>
<circle cx="420.3" cy="268.9" r="3.5" fill="url(#gDot)" opacity="0.64"/>
<circle cx="417.4" cy="277.2" r="3.5" fill="url(#gDot)" opacity="0.68"/>
<circle cx="414.6" cy="285.4" r="3.5" fill="url(#gDot)" opacity="0.74"/>
<circle cx="411.8" cy="293.6" r="3.5" fill="url(#gDot)" opacity="0.37"/>
<circle cx="408.9" cy="301.9" r="3.5" fill="url(#gDot)" opacity="0.46"/>
<circle cx="406.1" cy="310.1" r="3.5" fill="url(#gDot)" opacity="0.62"/>
<circle cx="403.3" cy="318.3" r="3.5" fill="url(#gDot)" opacity="0.61"/>
<circle cx="400.4" cy="326.5" r="3.5" fill="url(#gDot)" opacity="0.64"/>
<circle cx="397.6" cy="334.8" r="3.5" fill="url(#gDot)" opacity="0.58"/>
<circle cx="394.8" cy="343.0" r="3.5" fill="url(#gDot)" opacity="0.82"/>
<circle cx="391.9" cy="351.2" r="3.5" fill="url(#gDot)" opacity="0.51"/>
<circle cx="389.1" cy="359.4" r="3.5" fill="url(#gDot)" opacity="0.51"/>
<circle cx="386.3" cy="367.7" r="3.5" fill="url(#gDot)" opacity="0.44"/>
<circle cx="383.4" cy="375.9" r="3.5" fill="url(#gDot)" opacity="0.44"/>
<circle cx="380.6" cy="384.1" r="3.5" fill="url(#gDot)" opacity="0.45"/>
<circle cx="451.1" cy="206.0" r="3.5" fill="url(#gDot)" opacity="0.88"/>
<circle cx="448.3" cy="214.2" r="3.5" fill="url(#gDot)" opacity="0.54"/>
<circle cx="445.5" cy="222.4" r="3.5" fill="url(#gDot)" opacity="0.60"/>
<circle cx="442.6" cy="230.6" r="3.5" fill="url(#gDot)" opacity="0.58"/>
<circle cx="439.8" cy="238.9" r="3.5" fill="url(#gDot)" opacity="0.48"/>
<circle cx="437.0" cy="247.1" r="3.5" fill="url(#gDot)" opacity="0.41"/>
<circle cx="434.1" cy="255.3" r="3.5" fill="url(#gDot)" opacity="0.48"/>
<circle cx="431.3" cy="263.6" r="3.5" fill="url(#gDot)" opacity="0.51"/>
<circle cx="428.5" cy="271.8" r="3.5" fill="url(#gDot)" opacity="0.45"/>
<circle cx="425.6" cy="280.0" r="3.5" fill="url(#gDot)" opacity="0.43"/>
<circle cx="422.8" cy="288.2" r="3.5" fill="url(#gDot)" opacity="0.42"/>
<circle cx="420.0" cy="296.5" r="3.5" fill="url(#gDot)" opacity="0.73"/>
<circle cx="417.1" cy="304.7" r="3.5" fill="url(#gDot)" opacity="0.63"/>
<circle cx="414.3" cy="312.9" r="3.5" fill="url(#gDot)" opacity="0.33"/>
<circle cx="411.5" cy="321.1" r="3.5" fill="url(#gDot)" opacity="0.48"/>
<circle cx="408.6" cy="329.4" r="3.5" fill="url(#gDot)" opacity="0.48"/>
<circle cx="405.8" cy="337.6" r="3.5" fill="url(#gDot)" opacity="0.54"/>
<circle cx="403.0" cy="345.8" r="3.5" fill="url(#gDot)" opacity="0.61"/>
<circle cx="400.2" cy="354.0" r="3.5" fill="url(#gDot)" opacity="0.54"/>
<circle cx="397.3" cy="362.3" r="3.5" fill="url(#gDot)" opacity="0.50"/>
<circle cx="394.5" cy="370.5" r="3.5" fill="url(#gDot)" opacity="0.39"/>
<circle cx="391.7" cy="378.7" r="3.5" fill="url(#gDot)" opacity="0.43"/>
<circle cx="388.8" cy="386.9" r="3.5" fill="url(#gDot)" opacity="0.65"/>
<circle cx="459.4" cy="208.8" r="3.5" fill="url(#gDot)" opacity="0.49"/>
<circle cx="456.5" cy="217.0" r="3.5" fill="url(#gDot)" opacity="0.53"/>
<circle cx="453.7" cy="225.3" r="3.5" fill="url(#gDot)" opacity="0.70"/>
<circle cx="450.9" cy="233.5" r="3.5" fill="url(#gDot)" opacity="0.66"/>
<circle cx="448.0" cy="241.7" r="3.5" fill="url(#gDot)" opacity="0.60"/>
<circle cx="445.2" cy="249.9" r="3.5" fill="url(#gDot)" opacity="0.46"/>
<circle cx="442.4" cy="258.2" r="3.5" fill="url(#gDot)" opacity="0.64"/>
<circle cx="439.5" cy="266.4" r="3.5" fill="url(#gDot)" opacity="0.54"/>
<circle cx="436.7" cy="274.6" r="3.5" fill="url(#gDot)" opacity="0.48"/>
<circle cx="433.9" cy="282.8" r="3.5" fill="url(#gDot)" opacity="0.47"/>
<circle cx="431.0" cy="291.1" r="3.5" fill="url(#gDot)" opacity="0.58"/>
<circle cx="428.2" cy="299.3" r="3.5" fill="url(#gDot)" opacity="0.58"/>
<circle cx="425.4" cy="307.5" r="3.5" fill="url(#gDot)" opacity="0.57"/>
<circle cx="422.5" cy="315.7" r="3.5" fill="url(#gDot)" opacity="0.59"/>
<circle cx="419.7" cy="324.0" r="3.5" fill="url(#gDot)" opacity="0.51"/>
<circle cx="416.9" cy="332.2" r="3.5" fill="url(#gDot)" opacity="0.48"/>
<circle cx="414.0" cy="340.4" r="3.5" fill="url(#gDot)" opacity="0.49"/>
<circle cx="411.2" cy="348.6" r="3.5" fill="url(#gDot)" opacity="0.55"/>
<circle cx="408.4" cy="356.9" r="3.5" fill="url(#gDot)" opacity="0.75"/>
<circle cx="405.5" cy="365.1" r="3.5" fill="url(#gDot)" opacity="0.43"/>
<circle cx="402.7" cy="373.3" r="3.5" fill="url(#gDot)" opacity="0.52"/>
<circle cx="399.9" cy="381.5" r="3.5" fill="url(#gDot)" opacity="0.59"/>
<circle cx="397.0" cy="389.8" r="3.5" fill="url(#gDot)" opacity="0.32"/>
<circle cx="470.4" cy="203.4" r="3.5" fill="url(#gDot)" opacity="0.57"/>
<circle cx="467.6" cy="211.6" r="3.5" fill="url(#gDot)" opacity="0.63"/>
<circle cx="464.8" cy="219.9" r="3.5" fill="url(#gDot)" opacity="0.55"/>
<circle cx="461.9" cy="228.1" r="3.5" fill="url(#gDot)" opacity="0.57"/>
<circle cx="459.1" cy="236.3" r="3.5" fill="url(#gDot)" opacity="0.56"/>
<circle cx="456.3" cy="244.5" r="3.5" fill="url(#gDot)" opacity="0.44"/>
<circle cx="453.4" cy="252.8" r="3.5" fill="url(#gDot)" opacity="0.49"/>
<circle cx="450.6" cy="261.0" r="3.5" fill="url(#gDot)" opacity="0.51"/>
<circle cx="447.8" cy="269.2" r="3.5" fill="url(#gDot)" opacity="0.35"/>
<circle cx="444.9" cy="277.4" r="3.5" fill="url(#gDot)" opacity="0.61"/>
<circle cx="442.1" cy="285.7" r="3.5" fill="url(#gDot)" opacity="0.54"/>
<circle cx="439.3" cy="293.9" r="3.5" fill="url(#gDot)" opacity="0.73"/>
<circle cx="436.4" cy="302.1" r="3.5" fill="url(#gDot)" opacity="0.60"/>
<circle cx="433.6" cy="310.3" r="3.5" fill="url(#gDot)" opacity="0.53"/>
<circle cx="430.8" cy="318.6" r="3.5" fill="url(#gDot)" opacity="0.37"/>
<circle cx="427.9" cy="326.8" r="3.5" fill="url(#gDot)" opacity="0.36"/>
<circle cx="425.1" cy="335.0" r="3.5" fill="url(#gDot)" opacity="0.54"/>
<circle cx="422.3" cy="343.3" r="3.5" fill="url(#gDot)" opacity="0.37"/>
<circle cx="419.4" cy="351.5" r="3.5" fill="url(#gDot)" opacity="0.43"/>
<circle cx="416.6" cy="359.7" r="3.5" fill="url(#gDot)" opacity="0.50"/>
<circle cx="413.8" cy="367.9" r="3.5" fill="url(#gDot)" opacity="0.49"/>
<circle cx="410.9" cy="376.2" r="3.5" fill="url(#gDot)" opacity="0.56"/>
<circle cx="408.1" cy="384.4" r="3.5" fill="url(#gDot)" opacity="0.50"/>
<circle cx="478.6" cy="206.2" r="3.5" fill="url(#gDot)" opacity="0.44"/>
<circle cx="475.8" cy="214.5" r="3.5" fill="url(#gDot)" opacity="0.89"/>
<circle cx="473.0" cy="222.7" r="3.5" fill="url(#gDot)" opacity="0.55"/>
<circle cx="470.1" cy="230.9" r="3.5" fill="url(#gDot)" opacity="0.43"/>
<circle cx="467.3" cy="239.1" r="3.5" fill="url(#gDot)" opacity="0.70"/>
<circle cx="464.5" cy="247.4" r="3.5" fill="url(#gDot)" opacity="0.62"/>
<circle cx="461.7" cy="255.6" r="3.5" fill="url(#gDot)" opacity="0.53"/>
<circle cx="458.8" cy="263.8" r="3.5" fill="url(#gDot)" opacity="0.71"/>
<circle cx="456.0" cy="272.1" r="3.5" fill="url(#gDot)" opacity="0.67"/>
<circle cx="453.2" cy="280.3" r="3.5" fill="url(#gDot)" opacity="0.53"/>
<circle cx="450.3" cy="288.5" r="3.5" fill="url(#gDot)" opacity="0.48"/>
<circle cx="447.5" cy="296.7" r="3.5" fill="url(#gDot)" opacity="0.39"/>
<circle cx="444.7" cy="305.0" r="3.5" fill="url(#gDot)" opacity="0.60"/>
<circle cx="441.8" cy="313.2" r="3.5" fill="url(#gDot)" opacity="0.58"/>
<circle cx="439.0" cy="321.4" r="3.5" fill="url(#gDot)" opacity="0.67"/>
<circle cx="436.2" cy="329.6" r="3.5" fill="url(#gDot)" opacity="0.67"/>
<circle cx="433.3" cy="337.9" r="3.5" fill="url(#gDot)" opacity="0.48"/>
<circle cx="430.5" cy="346.1" r="3.5" fill="url(#gDot)" opacity="0.41"/>
<circle cx="427.7" cy="354.3" r="3.5" fill="url(#gDot)" opacity="0.41"/>
<circle cx="424.8" cy="362.5" r="3.5" fill="url(#gDot)" opacity="0.48"/>
<circle cx="422.0" cy="370.8" r="3.5" fill="url(#gDot)" opacity="0.51"/>
<circle cx="419.2" cy="379.0" r="3.5" fill="url(#gDot)" opacity="0.40"/>
<circle cx="416.3" cy="387.2" r="3.5" fill="url(#gDot)" opacity="0.50"/>
<circle cx="486.9" cy="209.1" r="3.5" fill="url(#gDot)" opacity="0.56"/>
<circle cx="484.0" cy="217.3" r="3.5" fill="url(#gDot)" opacity="0.47"/>
<circle cx="481.2" cy="225.5" r="3.5" fill="url(#gDot)" opacity="0.57"/>
<circle cx="478.4" cy="233.8" r="3.5" fill="url(#gDot)" opacity="0.58"/>
<circle cx="475.5" cy="242.0" r="3.5" fill="url(#gDot)" opacity="0.68"/>
<circle cx="472.7" cy="250.2" r="3.5" fill="url(#gDot)" opacity="0.60"/>
<circle cx="469.9" cy="258.4" r="3.5" fill="url(#gDot)" opacity="0.53"/>
<circle cx="467.0" cy="266.7" r="3.5" fill="url(#gDot)" opacity="0.67"/>
<circle cx="464.2" cy="274.9" r="3.5" fill="url(#gDot)" opacity="0.45"/>
<circle cx="461.4" cy="283.1" r="3.5" fill="url(#gDot)" opacity="0.80"/>
<circle cx="458.5" cy="291.3" r="3.5" fill="url(#gDot)" opacity="0.55"/>
<circle cx="455.7" cy="299.6" r="3.5" fill="url(#gDot)" opacity="0.53"/>
<circle cx="452.9" cy="307.8" r="3.5" fill="url(#gDot)" opacity="0.60"/>
<circle cx="450.1" cy="316.0" r="3.5" fill="url(#gDot)" opacity="0.55"/>
<circle cx="447.2" cy="324.2" r="3.5" fill="url(#gDot)" opacity="0.55"/>
<circle cx="444.4" cy="332.5" r="3.5" fill="url(#gDot)" opacity="0.72"/>
<circle cx="441.6" cy="340.7" r="3.5" fill="url(#gDot)" opacity="0.71"/>
<circle cx="438.7" cy="348.9" r="3.5" fill="url(#gDot)" opacity="0.51"/>
<circle cx="435.9" cy="357.1" r="3.5" fill="url(#gDot)" opacity="0.59"/>
<circle cx="433.1" cy="365.4" r="3.5" fill="url(#gDot)" opacity="0.41"/>
<circle cx="430.2" cy="373.6" r="3.5" fill="url(#gDot)" opacity="0.41"/>
<circle cx="427.4" cy="381.8" r="3.5" fill="url(#gDot)" opacity="0.46"/>
<circle cx="424.6" cy="390.0" r="3.5" fill="url(#gDot)" opacity="0.42"/>
<circle cx="497.9" cy="203.7" r="3.5" fill="url(#gDot)" opacity="0.62"/>
<circle cx="495.1" cy="211.9" r="3.5" fill="url(#gDot)" opacity="0.52"/>
<circle cx="492.3" cy="220.1" r="3.5" fill="url(#gDot)" opacity="0.59"/>
<circle cx="489.4" cy="228.4" r="3.5" fill="url(#gDot)" opacity="0.64"/>
<circle cx="486.6" cy="236.6" r="3.5" fill="url(#gDot)" opacity="0.60"/>
<circle cx="483.8" cy="244.8" r="3.5" fill="url(#gDot)" opacity="0.42"/>
<circle cx="480.9" cy="253.0" r="3.5" fill="url(#gDot)" opacity="0.87"/>
<circle cx="478.1" cy="261.3" r="3.5" fill="url(#gDot)" opacity="0.50"/>
<circle cx="475.3" cy="269.5" r="3.5" fill="url(#gDot)" opacity="0.55"/>
<circle cx="472.4" cy="277.7" r="3.5" fill="url(#gDot)" opacity="0.93"/>
<circle cx="469.6" cy="285.9" r="3.5" fill="url(#gDot)" opacity="0.63"/>
<circle cx="466.8" cy="294.2" r="3.5" fill="url(#gDot)" opacity="0.63"/>
<circle cx="463.9" cy="302.4" r="3.5" fill="url(#gDot)" opacity="0.53"/>
<circle cx="461.1" cy="310.6" r="3.5" fill="url(#gDot)" opacity="0.28"/>
<circle cx="458.3" cy="318.8" r="3.5" fill="url(#gDot)" opacity="0.51"/>
<circle cx="455.4" cy="327.1" r="3.5" fill="url(#gDot)" opacity="0.67"/>
<circle cx="452.6" cy="335.3" r="3.5" fill="url(#gDot)" opacity="0.59"/>
<circle cx="449.8" cy="343.5" r="3.5" fill="url(#gDot)" opacity="0.61"/>
<circle cx="446.9" cy="351.7" r="3.5" fill="url(#gDot)" opacity="0.57"/>
<circle cx="444.1" cy="360.0" r="3.5" fill="url(#gDot)" opacity="0.69"/>
<circle cx="441.3" cy="368.2" r="3.5" fill="url(#gDot)" opacity="0.51"/>
<circle cx="438.4" cy="376.4" r="3.5" fill="url(#gDot)" opacity="0.48"/>
<circle cx="435.6" cy="384.7" r="3.5" fill="url(#gDot)" opacity="0.46"/>
<circle cx="506.2" cy="206.5" r="3.5" fill="url(#gDot)" opacity="0.59"/>
<circle cx="503.3" cy="214.7" r="3.5" fill="url(#gDot)" opacity="0.68"/>
<circle cx="500.5" cy="223.0" r="3.5" fill="url(#gDot)" opacity="0.44"/>
<circle cx="497.7" cy="231.2" r="3.5" fill="url(#gDot)" opacity="0.45"/>
<circle cx="494.8" cy="239.4" r="3.5" fill="url(#gDot)" opacity="0.54"/>
<circle cx="492.0" cy="247.6" r="3.5" fill="url(#gDot)" opacity="0.50"/>
<circle cx="489.2" cy="255.9" r="3.5" fill="url(#gDot)" opacity="0.81"/>
<circle cx="486.3" cy="264.1" r="3.5" fill="url(#gDot)" opacity="0.41"/>
<circle cx="483.5" cy="272.3" r="3.5" fill="url(#gDot)" opacity="0.40"/>
<circle cx="480.7" cy="280.5" r="3.5" fill="url(#gDot)" opacity="0.54"/>
<circle cx="477.8" cy="288.8" r="3.5" fill="url(#gDot)" opacity="0.64"/>
<circle cx="475.0" cy="297.0" r="3.5" fill="url(#gDot)" opacity="0.65"/>
<circle cx="472.2" cy="305.2" r="3.5" fill="url(#gDot)" opacity="0.38"/>
<circle cx="469.3" cy="313.5" r="3.5" fill="url(#gDot)" opacity="0.64"/>
<circle cx="466.5" cy="321.7" r="3.5" fill="url(#gDot)" opacity="0.77"/>
<circle cx="463.7" cy="329.9" r="3.5" fill="url(#gDot)" opacity="0.72"/>
<circle cx="460.8" cy="338.1" r="3.5" fill="url(#gDot)" opacity="0.47"/>
<circle cx="458.0" cy="346.4" r="3.5" fill="url(#gDot)" opacity="0.55"/>
<circle cx="455.2" cy="354.6" r="3.5" fill="url(#gDot)" opacity="0.56"/>
<circle cx="452.3" cy="362.8" r="3.5" fill="url(#gDot)" opacity="0.40"/>
<circle cx="449.5" cy="371.0" r="3.5" fill="url(#gDot)" opacity="0.28"/>
<circle cx="446.7" cy="379.3" r="3.5" fill="url(#gDot)" opacity="0.44"/>
<circle cx="443.8" cy="387.5" r="3.5" fill="url(#gDot)" opacity="0.66"/>
<circle cx="514.4" cy="209.3" r="3.5" fill="url(#gDot)" opacity="0.57"/>
<circle cx="511.6" cy="217.6" r="3.5" fill="url(#gDot)" opacity="0.77"/>
<circle cx="508.7" cy="225.8" r="3.5" fill="url(#gDot)" opacity="0.60"/>
<circle cx="505.9" cy="234.0" r="3.5" fill="url(#gDot)" opacity="0.60"/>
<circle cx="503.1" cy="242.3" r="3.5" fill="url(#gDot)" opacity="0.58"/>
<circle cx="500.2" cy="250.5" r="3.5" fill="url(#gDot)" opacity="0.57"/>
<circle cx="497.4" cy="258.7" r="3.5" fill="url(#gDot)" opacity="0.49"/>
<circle cx="494.6" cy="266.9" r="3.5" fill="url(#gDot)" opacity="0.73"/>
<circle cx="491.7" cy="275.2" r="3.5" fill="url(#gDot)" opacity="0.30"/>
<circle cx="488.9" cy="283.4" r="3.5" fill="url(#gDot)" opacity="0.60"/>
<circle cx="486.1" cy="291.6" r="3.5" fill="url(#gDot)" opacity="0.46"/>
<circle cx="483.2" cy="299.8" r="3.5" fill="url(#gDot)" opacity="0.55"/>
<circle cx="480.4" cy="308.1" r="3.5" fill="url(#gDot)" opacity="0.78"/>
<circle cx="477.6" cy="316.3" r="3.5" fill="url(#gDot)" opacity="0.46"/>
<circle cx="474.7" cy="324.5" r="3.5" fill="url(#gDot)" opacity="0.48"/>
<circle cx="471.9" cy="332.7" r="3.5" fill="url(#gDot)" opacity="0.58"/>
<circle cx="469.1" cy="341.0" r="3.5" fill="url(#gDot)" opacity="0.55"/>
<circle cx="466.2" cy="349.2" r="3.5" fill="url(#gDot)" opacity="0.56"/>
<circle cx="463.4" cy="357.4" r="3.5" fill="url(#gDot)" opacity="0.48"/>
<circle cx="460.6" cy="365.6" r="3.5" fill="url(#gDot)" opacity="0.43"/>
<circle cx="457.7" cy="373.9" r="3.5" fill="url(#gDot)" opacity="0.40"/>
<circle cx="454.9" cy="382.1" r="3.5" fill="url(#gDot)" opacity="0.42"/>
<circle cx="452.1" cy="390.3" r="3.5" fill="url(#gDot)" opacity="0.44"/>
<circle cx="525.4" cy="204.0" r="3.5" fill="url(#gDot)" opacity="0.48"/>
<circle cx="522.6" cy="212.2" r="3.5" fill="url(#gDot)" opacity="0.48"/>
<circle cx="519.8" cy="220.4" r="3.5" fill="url(#gDot)" opacity="0.79"/>
<circle cx="516.9" cy="228.6" r="3.5" fill="url(#gDot)" opacity="0.57"/>
<circle cx="514.1" cy="236.9" r="3.5" fill="url(#gDot)" opacity="0.65"/>
<circle cx="511.3" cy="245.1" r="3.5" fill="url(#gDot)" opacity="0.61"/>
<circle cx="508.4" cy="253.3" r="3.5" fill="url(#gDot)" opacity="0.63"/>
<circle cx="505.6" cy="261.5" r="3.5" fill="url(#gDot)" opacity="0.56"/>
<circle cx="502.8" cy="269.8" r="3.5" fill="url(#gDot)" opacity="0.56"/>
<circle cx="499.9" cy="278.0" r="3.5" fill="url(#gDot)" opacity="0.69"/>
<circle cx="497.1" cy="286.2" r="3.5" fill="url(#gDot)" opacity="0.41"/>
<circle cx="494.3" cy="294.4" r="3.5" fill="url(#gDot)" opacity="0.60"/>
<circle cx="491.5" cy="302.7" r="3.5" fill="url(#gDot)" opacity="0.49"/>
<circle cx="488.6" cy="310.9" r="3.5" fill="url(#gDot)" opacity="0.52"/>
<circle cx="485.8" cy="319.1" r="3.5" fill="url(#gDot)" opacity="0.50"/>
<circle cx="483.0" cy="327.3" r="3.5" fill="url(#gDot)" opacity="0.47"/>
<circle cx="480.1" cy="335.6" r="3.5" fill="url(#gDot)" opacity="0.71"/>
<circle cx="477.3" cy="343.8" r="3.5" fill="url(#gDot)" opacity="0.39"/>
<circle cx="474.5" cy="352.0" r="3.5" fill="url(#gDot)" opacity="0.70"/>
<circle cx="471.6" cy="360.2" r="3.5" fill="url(#gDot)" opacity="0.52"/>
<circle cx="468.8" cy="368.5" r="3.5" fill="url(#gDot)" opacity="0.55"/>
<circle cx="466.0" cy="376.7" r="3.5" fill="url(#gDot)" opacity="0.42"/>
<circle cx="463.1" cy="384.9" r="3.5" fill="url(#gDot)" opacity="0.42"/>
<circle cx="533.7" cy="206.8" r="3.5" fill="url(#gDot)" opacity="0.61"/>
<circle cx="530.8" cy="215.0" r="3.5" fill="url(#gDot)" opacity="0.52"/>
<circle cx="528.0" cy="223.2" r="3.5" fill="url(#gDot)" opacity="0.65"/>
<circle cx="525.2" cy="231.5" r="3.5" fill="url(#gDot)" opacity="0.57"/>
<circle cx="522.3" cy="239.7" r="3.5" fill="url(#gDot)" opacity="0.58"/>
<circle cx="519.5" cy="247.9" r="3.5" fill="url(#gDot)" opacity="0.56"/>
<circle cx="516.7" cy="256.1" r="3.5" fill="url(#gDot)" opacity="0.54"/>
<circle cx="513.8" cy="264.4" r="3.5" fill="url(#gDot)" opacity="0.70"/>
<circle cx="511.0" cy="272.6" r="3.5" fill="url(#gDot)" opacity="0.50"/>
<circle cx="508.2" cy="280.8" r="3.5" fill="url(#gDot)" opacity="0.76"/>
<circle cx="505.3" cy="289.0" r="3.5" fill="url(#gDot)" opacity="0.50"/>
<circle cx="502.5" cy="297.3" r="3.5" fill="url(#gDot)" opacity="0.82"/>
<circle cx="499.7" cy="305.5" r="3.5" fill="url(#gDot)" opacity="0.63"/>
<circle cx="496.8" cy="313.7" r="3.5" fill="url(#gDot)" opacity="0.67"/>
<circle cx="494.0" cy="321.9" r="3.5" fill="url(#gDot)" opacity="0.28"/>
<circle cx="491.2" cy="330.2" r="3.5" fill="url(#gDot)" opacity="0.55"/>
<circle cx="488.3" cy="338.4" r="3.5" fill="url(#gDot)" opacity="0.51"/>
<circle cx="485.5" cy="346.6" r="3.5" fill="url(#gDot)" opacity="0.61"/>
<circle cx="482.7" cy="354.9" r="3.5" fill="url(#gDot)" opacity="0.55"/>
<circle cx="479.9" cy="363.1" r="3.5" fill="url(#gDot)" opacity="0.60"/>
<circle cx="477.0" cy="371.3" r="3.5" fill="url(#gDot)" opacity="0.46"/>
<circle cx="474.2" cy="379.5" r="3.5" fill="url(#gDot)" opacity="0.32"/>
<circle cx="471.4" cy="387.8" r="3.5" fill="url(#gDot)" opacity="0.32"/>
<circle cx="541.9" cy="209.6" r="3.5" fill="url(#gDot)" opacity="0.68"/>
<circle cx="539.1" cy="217.8" r="3.5" fill="url(#gDot)" opacity="0.55"/>
<circle cx="536.2" cy="226.1" r="3.5" fill="url(#gDot)" opacity="0.82"/>
<circle cx="533.4" cy="234.3" r="3.5" fill="url(#gDot)" opacity="0.42"/>
<circle cx="530.6" cy="242.5" r="3.5" fill="url(#gDot)" opacity="0.80"/>
<circle cx="527.7" cy="250.7" r="3.5" fill="url(#gDot)" opacity="0.55"/>
<circle cx="524.9" cy="259.0" r="3.5" fill="url(#gDot)" opacity="0.59"/>
<circle cx="522.1" cy="267.2" r="3.5" fill="url(#gDot)" opacity="0.51"/>
<circle cx="519.2" cy="275.4" r="3.5" fill="url(#gDot)" opacity="0.42"/>
<circle cx="516.4" cy="283.7" r="3.5" fill="url(#gDot)" opacity="0.41"/>
<circle cx="513.6" cy="291.9" r="3.5" fill="url(#gDot)" opacity="0.41"/>
<circle cx="510.7" cy="300.1" r="3.5" fill="url(#gDot)" opacity="0.48"/>
<circle cx="507.9" cy="308.3" r="3.5" fill="url(#gDot)" opacity="0.46"/>
<circle cx="505.1" cy="316.6" r="3.5" fill="url(#gDot)" opacity="0.42"/>
<circle cx="502.2" cy="324.8" r="3.5" fill="url(#gDot)" opacity="0.46"/>
<circle cx="499.4" cy="333.0" r="3.5" fill="url(#gDot)" opacity="0.49"/>
<circle cx="496.6" cy="341.2" r="3.5" fill="url(#gDot)" opacity="0.56"/>
<circle cx="493.7" cy="349.5" r="3.5" fill="url(#gDot)" opacity="0.41"/>
<circle cx="490.9" cy="357.7" r="3.5" fill="url(#gDot)" opacity="0.42"/>
<circle cx="488.1" cy="365.9" r="3.5" fill="url(#gDot)" opacity="0.37"/>
<circle cx="485.2" cy="374.1" r="3.5" fill="url(#gDot)" opacity="0.41"/>
<circle cx="482.4" cy="382.4" r="3.5" fill="url(#gDot)" opacity="0.42"/>
<circle cx="479.6" cy="390.6" r="3.5" fill="url(#gDot)" opacity="0.38"/>
<circle cx="553.0" cy="204.2" r="3.5" fill="url(#gDot)" opacity="0.71"/>
<circle cx="550.1" cy="212.5" r="3.5" fill="url(#gDot)" opacity="0.35"/>
<circle cx="547.3" cy="220.7" r="3.5" fill="url(#gDot)" opacity="0.64"/>
<circle cx="544.5" cy="228.9" r="3.5" fill="url(#gDot)" opacity="0.79"/>
<circle cx="541.6" cy="237.1" r="3.5" fill="url(#gDot)" opacity="0.41"/>
<circle cx="538.8" cy="245.4" r="3.5" fill="url(#gDot)" opacity="0.69"/>
<circle cx="536.0" cy="253.6" r="3.5" fill="url(#gDot)" opacity="0.59"/>
<circle cx="533.1" cy="261.8" r="3.5" fill="url(#gDot)" opacity="0.31"/>
<circle cx="530.3" cy="270.0" r="3.5" fill="url(#gDot)" opacity="0.48"/>
<circle cx="527.5" cy="278.3" r="3.5" fill="url(#gDot)" opacity="0.47"/>
<circle cx="524.6" cy="286.5" r="3.5" fill="url(#gDot)" opacity="0.53"/>
<circle cx="521.8" cy="294.7" r="3.5" fill="url(#gDot)" opacity="0.57"/>
<circle cx="519.0" cy="302.9" r="3.5" fill="url(#gDot)" opacity="0.50"/>
<circle cx="516.1" cy="311.2" r="3.5" fill="url(#gDot)" opacity="0.50"/>
<circle cx="513.3" cy="319.4" r="3.5" fill="url(#gDot)" opacity="0.51"/>
<circle cx="510.5" cy="327.6" r="3.5" fill="url(#gDot)" opacity="0.55"/>
<circle cx="507.6" cy="335.8" r="3.5" fill="url(#gDot)" opacity="0.44"/>
<circle cx="504.8" cy="344.1" r="3.5" fill="url(#gDot)" opacity="0.46"/>
<circle cx="502.0" cy="352.3" r="3.5" fill="url(#gDot)" opacity="0.34"/>
<circle cx="499.1" cy="360.5" r="3.5" fill="url(#gDot)" opacity="0.39"/>
<circle cx="496.3" cy="368.7" r="3.5" fill="url(#gDot)" opacity="0.37"/>
<circle cx="493.5" cy="377.0" r="3.5" fill="url(#gDot)" opacity="0.31"/>
<circle cx="490.6" cy="385.2" r="3.5" fill="url(#gDot)" opacity="0.41"/>
<circle cx="561.2" cy="207.1" r="3.5" fill="url(#gDot)" opacity="0.49"/>
<circle cx="558.3" cy="215.3" r="3.5" fill="url(#gDot)" opacity="0.36"/>
<circle cx="555.5" cy="223.5" r="3.5" fill="url(#gDot)" opacity="0.62"/>
<circle cx="552.7" cy="231.7" r="3.5" fill="url(#gDot)" opacity="0.58"/>
<circle cx="549.8" cy="240.0" r="3.5" fill="url(#gDot)" opacity="0.89"/>
<circle cx="547.0" cy="248.2" r="3.5" fill="url(#gDot)" opacity="0.38"/>
<circle cx="544.2" cy="256.4" r="3.5" fill="url(#gDot)" opacity="0.62"/>
<circle cx="541.4" cy="264.6" r="3.5" fill="url(#gDot)" opacity="0.79"/>
<circle cx="538.5" cy="272.9" r="3.5" fill="url(#gDot)" opacity="0.53"/>
<circle cx="535.7" cy="281.1" r="3.5" fill="url(#gDot)" opacity="0.54"/>
<circle cx="532.9" cy="289.3" r="3.5" fill="url(#gDot)" opacity="0.48"/>
<circle cx="530.0" cy="297.5" r="3.5" fill="url(#gDot)" opacity="0.44"/>
<circle cx="527.2" cy="305.8" r="3.5" fill="url(#gDot)" opacity="0.48"/>
<circle cx="524.4" cy="314.0" r="3.5" fill="url(#gDot)" opacity="0.51"/>
<circle cx="521.5" cy="322.2" r="3.5" fill="url(#gDot)" opacity="0.45"/>
<circle cx="518.7" cy="330.4" r="3.5" fill="url(#gDot)" opacity="0.51"/>
<circle cx="515.9" cy="338.7" r="3.5" fill="url(#gDot)" opacity="0.44"/>
<circle cx="513.0" cy="346.9" r="3.5" fill="url(#gDot)" opacity="0.54"/>
<circle cx="510.2" cy="355.1" r="3.5" fill="url(#gDot)" opacity="0.40"/>
<circle cx="507.4" cy="363.4" r="3.5" fill="url(#gDot)" opacity="0.27"/>
<circle cx="504.5" cy="371.6" r="3.5" fill="url(#gDot)" opacity="0.46"/>
<circle cx="501.7" cy="379.8" r="3.5" fill="url(#gDot)" opacity="0.40"/>
<circle cx="498.9" cy="388.0" r="3.5" fill="url(#gDot)" opacity="0.42"/>
<circle cx="569.4" cy="209.9" r="3.5" fill="url(#gDot)" opacity="0.60"/>
<circle cx="566.6" cy="218.1" r="3.5" fill="url(#gDot)" opacity="0.36"/>
<circle cx="563.7" cy="226.3" r="3.5" fill="url(#gDot)" opacity="0.42"/>
<circle cx="560.9" cy="234.6" r="3.5" fill="url(#gDot)" opacity="0.58"/>
<circle cx="558.1" cy="242.8" r="3.5" fill="url(#gDot)" opacity="0.52"/>
<circle cx="555.2" cy="251.0" r="3.5" fill="url(#gDot)" opacity="0.78"/>
<circle cx="552.4" cy="259.2" r="3.5" fill="url(#gDot)" opacity="0.52"/>
<circle cx="549.6" cy="267.5" r="3.5" fill="url(#gDot)" opacity="0.48"/>
<circle cx="546.7" cy="275.7" r="3.5" fill="url(#gDot)" opacity="0.41"/>
<circle cx="543.9" cy="283.9" r="3.5" fill="url(#gDot)" opacity="0.42"/>
<circle cx="541.1" cy="292.1" r="3.5" fill="url(#gDot)" opacity="0.38"/>
<circle cx="538.2" cy="300.4" r="3.5" fill="url(#gDot)" opacity="0.53"/>
<circle cx="535.4" cy="308.6" r="3.5" fill="url(#gDot)" opacity="0.70"/>
<circle cx="532.6" cy="316.8" r="3.5" fill="url(#gDot)" opacity="0.48"/>
<circle cx="529.7" cy="325.1" r="3.5" fill="url(#gDot)" opacity="0.46"/>
<circle cx="526.9" cy="333.3" r="3.5" fill="url(#gDot)" opacity="0.57"/>
<circle cx="524.1" cy="341.5" r="3.5" fill="url(#gDot)" opacity="0.47"/>
<circle cx="521.3" cy="349.7" r="3.5" fill="url(#gDot)" opacity="0.49"/>
<circle cx="518.4" cy="358.0" r="3.5" fill="url(#gDot)" opacity="0.35"/>
<circle cx="515.6" cy="366.2" r="3.5" fill="url(#gDot)" opacity="0.36"/>
<circle cx="512.8" cy="374.4" r="3.5" fill="url(#gDot)" opacity="0.41"/>
<circle cx="509.9" cy="382.6" r="3.5" fill="url(#gDot)" opacity="0.33"/>
<circle cx="507.1" cy="390.9" r="3.5" fill="url(#gDot)" opacity="0.32"/>
<circle cx="580.5" cy="204.5" r="3.5" fill="url(#gDot)" opacity="0.38"/>
<circle cx="577.6" cy="212.7" r="3.5" fill="url(#gDot)" opacity="0.33"/>
<circle cx="574.8" cy="220.9" r="3.5" fill="url(#gDot)" opacity="0.65"/>
<circle cx="572.0" cy="229.2" r="3.5" fill="url(#gDot)" opacity="0.64"/>
<circle cx="569.1" cy="237.4" r="3.5" fill="url(#gDot)" opacity="0.50"/>
<circle cx="566.3" cy="245.6" r="3.5" fill="url(#gDot)" opacity="0.61"/>
<circle cx="563.5" cy="253.9" r="3.5" fill="url(#gDot)" opacity="0.50"/>
<circle cx="560.6" cy="262.1" r="3.5" fill="url(#gDot)" opacity="0.58"/>
<circle cx="557.8" cy="270.3" r="3.5" fill="url(#gDot)" opacity="0.62"/>
<circle cx="555.0" cy="278.5" r="3.5" fill="url(#gDot)" opacity="0.39"/>
<circle cx="552.1" cy="286.8" r="3.5" fill="url(#gDot)" opacity="0.58"/>
<circle cx="549.3" cy="295.0" r="3.5" fill="url(#gDot)" opacity="0.43"/>
<circle cx="546.5" cy="303.2" r="3.5" fill="url(#gDot)" opacity="0.59"/>
<circle cx="543.6" cy="311.4" r="3.5" fill="url(#gDot)" opacity="0.49"/>
<circle cx="540.8" cy="319.7" r="3.5" fill="url(#gDot)" opacity="0.41"/>
<circle cx="538.0" cy="327.9" r="3.5" fill="url(#gDot)" opacity="0.42"/>
<circle cx="535.1" cy="336.1" r="3.5" fill="url(#gDot)" opacity="0.44"/>
<circle cx="532.3" cy="344.3" r="3.5" fill="url(#gDot)" opacity="0.51"/>
<circle cx="529.5" cy="352.6" r="3.5" fill="url(#gDot)" opacity="0.34"/>
<circle cx="526.6" cy="360.8" r="3.5" fill="url(#gDot)" opacity="0.35"/>
<circle cx="523.8" cy="369.0" r="3.5" fill="url(#gDot)" opacity="0.29"/>
<circle cx="521.0" cy="377.2" r="3.5" fill="url(#gDot)" opacity="0.23"/>
<circle cx="518.1" cy="385.5" r="3.5" fill="url(#gDot)" opacity="0.36"/>
<circle cx="588.7" cy="207.3" r="3.5" fill="url(#gDot)" opacity="0.50"/>
<circle cx="585.9" cy="215.6" r="3.5" fill="url(#gDot)" opacity="0.45"/>
<circle cx="583.0" cy="223.8" r="3.5" fill="url(#gDot)" opacity="0.36"/>
<circle cx="580.2" cy="232.0" r="3.5" fill="url(#gDot)" opacity="0.58"/>
<circle cx="577.4" cy="240.2" r="3.5" fill="url(#gDot)" opacity="0.41"/>
<circle cx="574.5" cy="248.5" r="3.5" fill="url(#gDot)" opacity="0.45"/>
<circle cx="571.7" cy="256.7" r="3.5" fill="url(#gDot)" opacity="0.80"/>
<circle cx="568.9" cy="264.9" r="3.5" fill="url(#gDot)" opacity="0.61"/>
<circle cx="566.0" cy="273.1" r="3.5" fill="url(#gDot)" opacity="0.31"/>
<circle cx="563.2" cy="281.4" r="3.5" fill="url(#gDot)" opacity="0.27"/>
<circle cx="560.4" cy="289.6" r="3.5" fill="url(#gDot)" opacity="0.55"/>
<circle cx="557.5" cy="297.8" r="3.5" fill="url(#gDot)" opacity="0.43"/>
<circle cx="554.7" cy="306.0" r="3.5" fill="url(#gDot)" opacity="0.33"/>
<circle cx="551.9" cy="314.3" r="3.5" fill="url(#gDot)" opacity="0.45"/>
<circle cx="549.0" cy="322.5" r="3.5" fill="url(#gDot)" opacity="0.48"/>
<circle cx="546.2" cy="330.7" r="3.5" fill="url(#gDot)" opacity="0.50"/>
<circle cx="543.4" cy="338.9" r="3.5" fill="url(#gDot)" opacity="0.44"/>
<circle cx="540.5" cy="347.2" r="3.5" fill="url(#gDot)" opacity="0.42"/>
<circle cx="537.7" cy="355.4" r="3.5" fill="url(#gDot)" opacity="0.31"/>
<circle cx="534.9" cy="363.6" r="3.5" fill="url(#gDot)" opacity="0.29"/>
<circle cx="532.0" cy="371.8" r="3.5" fill="url(#gDot)" opacity="0.37"/>
<circle cx="529.2" cy="380.1" r="3.5" fill="url(#gDot)" opacity="0.35"/>
<circle cx="526.4" cy="388.3" r="3.5" fill="url(#gDot)" opacity="0.31"/>
<circle cx="596.9" cy="210.2" r="3.5" fill="url(#gDot)" opacity="0.54"/>
<circle cx="594.1" cy="218.4" r="3.5" fill="url(#gDot)" opacity="0.72"/>
<circle cx="591.2" cy="226.6" r="3.5" fill="url(#gDot)" opacity="0.51"/>
<circle cx="588.4" cy="234.8" r="3.5" fill="url(#gDot)" opacity="0.40"/>
<circle cx="585.6" cy="243.1" r="3.5" fill="url(#gDot)" opacity="0.58"/>
<circle cx="582.8" cy="251.3" r="3.5" fill="url(#gDot)" opacity="0.47"/>
<circle cx="579.9" cy="259.5" r="3.5" fill="url(#gDot)" opacity="0.69"/>
<circle cx="577.1" cy="267.7" r="3.5" fill="url(#gDot)" opacity="0.40"/>
<circle cx="574.3" cy="276.0" r="3.5" fill="url(#gDot)" opacity="0.47"/>
<circle cx="571.4" cy="284.2" r="3.5" fill="url(#gDot)" opacity="0.52"/>
<circle cx="568.6" cy="292.4" r="3.5" fill="url(#gDot)" opacity="0.42"/>
<circle cx="565.8" cy="300.6" r="3.5" fill="url(#gDot)" opacity="0.43"/>
<circle cx="562.9" cy="308.9" r="3.5" fill="url(#gDot)" opacity="0.48"/>
<circle cx="560.1" cy="317.1" r="3.5" fill="url(#gDot)" opacity="0.39"/>
<circle cx="557.3" cy="325.3" r="3.5" fill="url(#gDot)" opacity="0.33"/>
<circle cx="554.4" cy="333.6" r="3.5" fill="url(#gDot)" opacity="0.49"/>
<circle cx="551.6" cy="341.8" r="3.5" fill="url(#gDot)" opacity="0.39"/>
<circle cx="548.8" cy="350.0" r="3.5" fill="url(#gDot)" opacity="0.45"/>
<circle cx="545.9" cy="358.2" r="3.5" fill="url(#gDot)" opacity="0.30"/>
<circle cx="543.1" cy="366.5" r="3.5" fill="url(#gDot)" opacity="0.27"/>
<circle cx="540.3" cy="374.7" r="3.5" fill="url(#gDot)" opacity="0.20"/>
<circle cx="537.4" cy="382.9" r="3.5" fill="url(#gDot)" opacity="0.24"/>
<circle cx="534.6" cy="391.1" r="3.5" fill="url(#gDot)" opacity="0.25"/>
<circle cx="599.5" cy="229.4" r="3.5" fill="url(#gDot)" opacity="0.41"/>
<circle cx="596.6" cy="237.7" r="3.5" fill="url(#gDot)" opacity="0.31"/>
<circle cx="593.8" cy="245.9" r="3.5" fill="url(#gDot)" opacity="0.38"/>
<circle cx="591.0" cy="254.1" r="3.5" fill="url(#gDot)" opacity="0.44"/>
<circle cx="588.1" cy="262.3" r="3.5" fill="url(#gDot)" opacity="0.44"/>
<circle cx="585.3" cy="270.6" r="3.5" fill="url(#gDot)" opacity="0.54"/>
<circle cx="582.5" cy="278.8" r="3.5" fill="url(#gDot)" opacity="0.42"/>
<circle cx="579.6" cy="287.0" r="3.5" fill="url(#gDot)" opacity="0.39"/>
<circle cx="576.8" cy="295.3" r="3.5" fill="url(#gDot)" opacity="0.38"/>
<circle cx="574.0" cy="303.5" r="3.5" fill="url(#gDot)" opacity="0.21"/>
<circle cx="571.2" cy="311.7" r="3.5" fill="url(#gDot)" opacity="0.40"/>
<circle cx="568.3" cy="319.9" r="3.5" fill="url(#gDot)" opacity="0.31"/>
<circle cx="565.5" cy="328.2" r="3.5" fill="url(#gDot)" opacity="0.27"/>
<circle cx="562.7" cy="336.4" r="3.5" fill="url(#gDot)" opacity="0.26"/>
<circle cx="559.8" cy="344.6" r="3.5" fill="url(#gDot)" opacity="0.21"/>
<circle cx="557.0" cy="352.8" r="3.5" fill="url(#gDot)" opacity="0.30"/>
<circle cx="554.2" cy="361.1" r="3.5" fill="url(#gDot)" opacity="0.18"/>
<circle cx="551.3" cy="369.3" r="3.5" fill="url(#gDot)" opacity="0.25"/>
<circle cx="548.5" cy="377.5" r="3.5" fill="url(#gDot)" opacity="0.22"/>
<circle cx="545.7" cy="385.7" r="3.5" fill="url(#gDot)" opacity="0.24"/>
<circle cx="599.2" cy="257.0" r="3.5" fill="url(#gDot)" opacity="0.47"/>
<circle cx="596.4" cy="265.2" r="3.5" fill="url(#gDot)" opacity="0.45"/>
<circle cx="593.5" cy="273.4" r="3.5" fill="url(#gDot)" opacity="0.50"/>
<circle cx="590.7" cy="281.6" r="3.5" fill="url(#gDot)" opacity="0.43"/>
<circle cx="587.9" cy="289.9" r="3.5" fill="url(#gDot)" opacity="0.30"/>
<circle cx="585.0" cy="298.1" r="3.5" fill="url(#gDot)" opacity="0.28"/>
<circle cx="582.2" cy="306.3" r="3.5" fill="url(#gDot)" opacity="0.29"/>
<circle cx="579.4" cy="314.5" r="3.5" fill="url(#gDot)" opacity="0.29"/>
<circle cx="576.5" cy="322.8" r="3.5" fill="url(#gDot)" opacity="0.33"/>
<circle cx="573.7" cy="331.0" r="3.5" fill="url(#gDot)" opacity="0.28"/>
<circle cx="570.9" cy="339.2" r="3.5" fill="url(#gDot)" opacity="0.31"/>
<circle cx="568.0" cy="347.4" r="3.5" fill="url(#gDot)" opacity="0.26"/>
<circle cx="565.2" cy="355.7" r="3.5" fill="url(#gDot)" opacity="0.31"/>
<circle cx="562.4" cy="363.9" r="3.5" fill="url(#gDot)" opacity="0.21"/>
<circle cx="559.5" cy="372.1" r="3.5" fill="url(#gDot)" opacity="0.20"/>
<circle cx="556.7" cy="380.3" r="3.5" fill="url(#gDot)" opacity="0.13"/>
<circle cx="553.9" cy="388.6" r="3.5" fill="url(#gDot)" opacity="0.20"/>
<circle cx="598.9" cy="284.5" r="3.5" fill="url(#gDot)" opacity="0.45"/>
<circle cx="596.1" cy="292.7" r="3.5" fill="url(#gDot)" opacity="0.35"/>
<circle cx="593.3" cy="300.9" r="3.5" fill="url(#gDot)" opacity="0.35"/>
<circle cx="590.4" cy="309.1" r="3.5" fill="url(#gDot)" opacity="0.31"/>
<circle cx="587.6" cy="317.4" r="3.5" fill="url(#gDot)" opacity="0.25"/>
<circle cx="584.8" cy="325.6" r="3.5" fill="url(#gDot)" opacity="0.18"/>
<circle cx="581.9" cy="333.8" r="3.5" fill="url(#gDot)" opacity="0.37"/>
<circle cx="579.1" cy="342.0" r="3.5" fill="url(#gDot)" opacity="0.18"/>
<circle cx="576.3" cy="350.3" r="3.5" fill="url(#gDot)" opacity="0.25"/>
<circle cx="573.4" cy="358.5" r="3.5" fill="url(#gDot)" opacity="0.16"/>
<circle cx="570.6" cy="366.7" r="3.5" fill="url(#gDot)" opacity="0.14"/>
<circle cx="567.8" cy="375.0" r="3.5" fill="url(#gDot)" opacity="0.17"/>
<circle cx="564.9" cy="383.2" r="3.5" fill="url(#gDot)" opacity="0.12"/>
<circle cx="562.1" cy="391.4" r="3.5" fill="url(#gDot)" opacity="0.12"/>
<circle cx="598.7" cy="312.0" r="3.5" fill="url(#gDot)" opacity="0.31"/>
<circle cx="595.8" cy="320.2" r="3.5" fill="url(#gDot)" opacity="0.30"/>
<circle cx="593.0" cy="328.4" r="3.5" fill="url(#gDot)" opacity="0.24"/>
<circle cx="590.2" cy="336.7" r="3.5" fill="url(#gDot)" opacity="0.26"/>
<circle cx="587.3" cy="344.9" r="3.5" fill="url(#gDot)" opacity="0.20"/>
<circle cx="584.5" cy="353.1" r="3.5" fill="url(#gDot)" opacity="0.19"/>
<circle cx="581.7" cy="361.3" r="3.5" fill="url(#gDot)" opacity="0.17"/>
<circle cx="578.8" cy="369.6" r="3.5" fill="url(#gDot)" opacity="0.12"/>
<circle cx="576.0" cy="377.8" r="3.5" fill="url(#gDot)" opacity="0.12"/>
<circle cx="573.2" cy="386.0" r="3.5" fill="url(#gDot)" opacity="0.12"/>
<circle cx="598.4" cy="339.5" r="3.5" fill="url(#gDot)" opacity="0.18"/>
<circle cx="595.6" cy="347.7" r="3.5" fill="url(#gDot)" opacity="0.14"/>
<circle cx="592.7" cy="355.9" r="3.5" fill="url(#gDot)" opacity="0.19"/>
<circle cx="589.9" cy="364.2" r="3.5" fill="url(#gDot)" opacity="0.12"/>
<circle cx="587.1" cy="372.4" r="3.5" fill="url(#gDot)" opacity="0.12"/>
<circle cx="584.2" cy="380.6" r="3.5" fill="url(#gDot)" opacity="0.12"/>
<circle cx="581.4" cy="388.8" r="3.5" fill="url(#gDot)" opacity="0.12"/>
<circle cx="598.1" cy="367.0" r="3.5" fill="url(#gDot)" opacity="0.12"/>
<circle cx="595.3" cy="375.2" r="3.5" fill="url(#gDot)" opacity="0.12"/>
<circle cx="592.5" cy="383.4" r="3.5" fill="url(#gDot)" opacity="0.12"/>
<circle cx="589.6" cy="391.7" r="3.5" fill="url(#gDot)" opacity="0.12"/>
</g>
<polygon points="463.3,235.8 518.3,254.2 515.2,262.5 460.8,243.3" fill="none" stroke="#55dd3a" stroke-width="1.6" stroke-dasharray="4,2.6"/>
<path d="M486 252 L464 282" stroke="#55dd3a" stroke-width="1.6" stroke-dasharray="4,2.6"/>
<polygon points="461.5,286 462.5,279 467.5,282.5" fill="#5ad23c"/>
<rect x="388.8" y="289.6" width="125.2" height="70.2" fill="#000" opacity="0.5"/>
<path d="M390.5 359.2 L390.5 342.5 L391.5 334.2 L392.4 317.5 L393.4 309.2 L394.4 311.2 L395.5 305.0 L396.7 309.2 L397.8 300.8 L398.8 307.1 L400.1 295.4 L401.3 305.0 L402.5 313.3 L404.0 325.8 L405.6 338.3 L407.1 344.6 L408.8 345.9 L410.2 340.4 L411.3 325.8 L412.5 313.3 L413.7 315.4 L415.2 311.2 L416.7 317.5 L418.1 307.1 L419.4 298.7 L420.6 313.3 L422.0 330.0 L423.3 342.5 L424.9 346.7 L426.2 348.8 L427.6 344.6 L429.1 332.1 L430.6 309.2 L432.0 305.0 L433.3 315.4 L434.9 321.7 L436.4 309.2 L437.8 315.4 L439.3 298.7 L440.7 313.3 L442.2 332.1 L443.8 344.6 L445.3 350.0 L446.9 350.9 L448.4 343.4 L449.9 325.8 L451.3 317.5 L452.6 319.6 L454.2 314.2 L455.7 317.5 L457.3 315.4 L458.8 313.3 L460.4 330.0 L461.9 342.5 L463.5 343.4 L465.0 338.3 L466.5 344.6 L468.1 336.3 L469.6 323.8 L471.2 325.8 L472.7 321.7 L474.3 317.5 L475.8 309.2 L477.4 330.0 L478.9 340.4 L480.4 346.7 L482.0 351.7 L483.5 350.9 L485.1 342.5 L486.6 325.8 L488.2 317.5 L489.5 321.7 L490.9 315.4 L492.2 305.0 L493.6 294.1 L494.9 300.8 L496.3 321.7 L497.6 336.3 L499.0 342.5 L500.5 346.7 L502.1 340.4 L503.4 323.8 L504.8 313.3 L506.3 317.5 L507.8 307.1 L509.4 313.3 L510.9 305.0 L512.5 309.2 L514.0 302.9 L515.6 325.8 L516.0 330.0 L516.0 359.2 Z" fill="#9a9814"/>
<rect x="388.8" y="289.6" width="125.2" height="70.2" fill="none" stroke="#d8c828" stroke-width="1.3"/>
<line x1="385.3" y1="359.2" x2="388.8" y2="359.2" stroke="#d8c828" stroke-width="1.2"/>
<line x1="386.6" y1="348.8" x2="388.8" y2="348.8" stroke="#d8c828" stroke-width="1.2"/>
<line x1="385.3" y1="338.3" x2="388.8" y2="338.3" stroke="#d8c828" stroke-width="1.2"/>
<line x1="386.6" y1="327.9" x2="388.8" y2="327.9" stroke="#d8c828" stroke-width="1.2"/>
<line x1="385.3" y1="317.5" x2="388.8" y2="317.5" stroke="#d8c828" stroke-width="1.2"/>
<line x1="386.6" y1="307.1" x2="388.8" y2="307.1" stroke="#d8c828" stroke-width="1.2"/>
<line x1="385.3" y1="296.6" x2="388.8" y2="296.6" stroke="#d8c828" stroke-width="1.2"/>
<line x1="390.5" y1="359.8" x2="390.5" y2="362.8" stroke="#d8c828" stroke-width="1.2"/>
<line x1="409.8" y1="359.8" x2="409.8" y2="362.8" stroke="#d8c828" stroke-width="1.2"/>
<line x1="429.1" y1="359.8" x2="429.1" y2="362.8" stroke="#d8c828" stroke-width="1.2"/>
<line x1="448.4" y1="359.8" x2="448.4" y2="362.8" stroke="#d8c828" stroke-width="1.2"/>
<line x1="467.7" y1="359.8" x2="467.7" y2="362.8" stroke="#d8c828" stroke-width="1.2"/>
<line x1="487.0" y1="359.8" x2="487.0" y2="362.8" stroke="#d8c828" stroke-width="1.2"/>
<line x1="506.3" y1="359.8" x2="506.3" y2="362.8" stroke="#d8c828" stroke-width="1.2"/>
<line x1="400.1" y1="359.8" x2="400.1" y2="361.8" stroke="#d8c828" stroke-width="1"/>
<line x1="419.4" y1="359.8" x2="419.4" y2="361.8" stroke="#d8c828" stroke-width="1"/>
<line x1="438.8" y1="359.8" x2="438.8" y2="361.8" stroke="#d8c828" stroke-width="1"/>
<line x1="458.1" y1="359.8" x2="458.1" y2="361.8" stroke="#d8c828" stroke-width="1"/>
<line x1="477.4" y1="359.8" x2="477.4" y2="361.8" stroke="#d8c828" stroke-width="1"/>
<line x1="496.6" y1="359.8" x2="496.6" y2="361.8" stroke="#d8c828" stroke-width="1"/>
<line x1="516.0" y1="359.8" x2="516.0" y2="361.8" stroke="#d8c828" stroke-width="1"/>
<text x="384.8" y="362.4" font-size="10" fill="#c8b820" text-anchor="end" font-family="Liberation Sans, sans-serif" stroke="#c8b820" stroke-width="0.28">5</text>
<text x="384.8" y="341.5" font-size="10" fill="#c8b820" text-anchor="end" font-family="Liberation Sans, sans-serif" stroke="#c8b820" stroke-width="0.28">10</text>
<text x="384.8" y="320.7" font-size="10" fill="#c8b820" text-anchor="end" font-family="Liberation Sans, sans-serif" stroke="#c8b820" stroke-width="0.28">15</text>
<text x="384.8" y="299.8" font-size="10" fill="#c8b820" text-anchor="end" font-family="Liberation Sans, sans-serif" stroke="#c8b820" stroke-width="0.28">20</text>
<text x="390.5" y="372.8" font-size="10" fill="#c8b820" text-anchor="middle" font-family="Liberation Sans, sans-serif" stroke="#c8b820" stroke-width="0.28">0</text>
<text x="409.8" y="372.8" font-size="10" fill="#c8b820" text-anchor="middle" font-family="Liberation Sans, sans-serif" stroke="#c8b820" stroke-width="0.28">10</text>
<text x="429.1" y="372.8" font-size="10" fill="#c8b820" text-anchor="middle" font-family="Liberation Sans, sans-serif" stroke="#c8b820" stroke-width="0.28">20</text>
<text x="448.4" y="372.8" font-size="10" fill="#c8b820" text-anchor="middle" font-family="Liberation Sans, sans-serif" stroke="#c8b820" stroke-width="0.28">30</text>
<text x="467.7" y="372.8" font-size="10" fill="#c8b820" text-anchor="middle" font-family="Liberation Sans, sans-serif" stroke="#c8b820" stroke-width="0.28">40</text>
<text x="487.0" y="372.8" font-size="10" fill="#c8b820" text-anchor="middle" font-family="Liberation Sans, sans-serif" stroke="#c8b820" stroke-width="0.28">50</text>
<text x="506.3" y="372.8" font-size="10" fill="#c8b820" text-anchor="middle" font-family="Liberation Sans, sans-serif" stroke="#c8b820" stroke-width="0.28">60</text>
<text x="467.8" y="381.6" font-size="10.5" fill="#c8b820" text-anchor="middle" font-family="Liberation Sans, sans-serif" stroke="#c8b820" stroke-width="0.28">Distance (µm)</text>
<text transform="translate(370.8 325) rotate(-90)" font-size="10.5" fill="#c8b820" text-anchor="middle" font-family="Liberation Sans, sans-serif" stroke="#c8b820" stroke-width="0.28">Intensity (a.u.)</text>
<rect x="544" y="371" width="37.5" height="3.2" fill="#fff"/>
<text x="562.3" y="364.3" font-size="10" fill="#e8e8e8" text-anchor="middle" font-family="Liberation Sans, sans-serif" stroke="#e8e8e8" stroke-width="0.28">50 µm</text>
<polyline points="41.3,539.9 75.0,536.2 108.8,542.1 142.6,521.9 174.8,537.1 210.7,541.6 245.0,546.4 278.8,542.7" fill="none" stroke="#111111" stroke-width="1.2" stroke-linejoin="round"/>
<circle cx="41.3" cy="539.9" r="2.6" fill="#111111"/>
<circle cx="75.0" cy="536.2" r="2.6" fill="#111111"/>
<circle cx="108.8" cy="542.1" r="2.6" fill="#111111"/>
<circle cx="142.6" cy="521.9" r="2.6" fill="#111111"/>
<circle cx="174.8" cy="537.1" r="2.6" fill="#111111"/>
<circle cx="210.7" cy="541.6" r="2.6" fill="#111111"/>
<circle cx="245.0" cy="546.4" r="2.6" fill="#111111"/>
<circle cx="278.8" cy="542.7" r="2.6" fill="#111111"/>
<polyline points="41.3,545.5 75.0,532.8 108.8,507.0 142.6,481.0 174.8,502.7 210.7,525.0 245.0,539.9 278.8,530.9" fill="none" stroke="#f0922e" stroke-width="1.1" stroke-linejoin="round"/>
<polygon points="41.3,542.7 42.0,544.5 44.0,544.6 42.5,545.9 42.9,547.8 41.3,546.8 39.7,547.8 40.1,545.9 38.6,544.6 40.6,544.5" fill="#f0922e" stroke="none" stroke-width="0.8"/>
<polygon points="75.0,530.0 75.7,531.8 77.7,531.9 76.2,533.2 76.6,535.1 75.0,534.1 73.4,535.1 73.8,533.2 72.3,531.9 74.3,531.8" fill="#f0922e" stroke="none" stroke-width="0.8"/>
<polygon points="108.8,504.2 109.5,506.0 111.5,506.1 110.0,507.4 110.4,509.3 108.8,508.3 107.2,509.3 107.6,507.4 106.1,506.1 108.1,506.0" fill="#f0922e" stroke="none" stroke-width="0.8"/>
<polygon points="142.6,478.2 143.3,480.0 145.3,480.1 143.8,481.4 144.2,483.3 142.6,482.3 141.0,483.3 141.4,481.4 139.9,480.1 141.9,480.0" fill="#f0922e" stroke="none" stroke-width="0.8"/>
<polygon points="174.8,499.9 175.5,501.7 177.5,501.8 176.0,503.1 176.4,505.0 174.8,504.0 173.2,505.0 173.6,503.1 172.1,501.8 174.1,501.7" fill="#f0922e" stroke="none" stroke-width="0.8"/>
<polygon points="210.7,522.2 211.4,524.0 213.4,524.1 211.9,525.4 212.3,527.3 210.7,526.3 209.1,527.3 209.5,525.4 208.0,524.1 210.0,524.0" fill="#f0922e" stroke="none" stroke-width="0.8"/>
<polygon points="245.0,537.1 245.7,538.9 247.7,539.0 246.2,540.3 246.6,542.2 245.0,541.2 243.4,542.2 243.8,540.3 242.3,539.0 244.3,538.9" fill="#f0922e" stroke="none" stroke-width="0.8"/>
<polygon points="278.8,528.1 279.5,529.9 281.5,530.0 280.0,531.3 280.4,533.2 278.8,532.2 277.2,533.2 277.6,531.3 276.1,530.0 278.1,529.9" fill="#f0922e" stroke="none" stroke-width="0.8"/>
<polyline points="41.3,496.3 75.0,477.4 108.8,472.6 142.6,462.5 174.8,470.4 210.7,481.0 245.0,493.4 278.8,507.8" fill="none" stroke="#a244e2" stroke-width="1.3" stroke-linejoin="round"/>
<path d="M38.8 493.8l5.0 5.0M38.8 498.8l5.0 -5.0" stroke="#a244e2" stroke-width="1"/>
<path d="M72.5 474.9l5.0 5.0M72.5 479.9l5.0 -5.0" stroke="#a244e2" stroke-width="1"/>
<path d="M106.3 470.1l5.0 5.0M106.3 475.1l5.0 -5.0" stroke="#a244e2" stroke-width="1"/>
<path d="M140.1 460.0l5.0 5.0M140.1 465.0l5.0 -5.0" stroke="#a244e2" stroke-width="1"/>
<path d="M172.3 467.9l5.0 5.0M172.3 472.9l5.0 -5.0" stroke="#a244e2" stroke-width="1"/>
<path d="M208.2 478.5l5.0 5.0M208.2 483.5l5.0 -5.0" stroke="#a244e2" stroke-width="1"/>
<path d="M242.5 490.9l5.0 5.0M242.5 495.9l5.0 -5.0" stroke="#a244e2" stroke-width="1"/>
<path d="M276.3 505.3l5.0 5.0M276.3 510.3l5.0 -5.0" stroke="#a244e2" stroke-width="1"/>
<polyline points="41.3,520.2 75.0,491.5 108.8,459.1 142.6,431.8 174.8,417.5 210.7,476.6 245.0,481.3 278.8,483.6" fill="none" stroke="#f096f0" stroke-width="1.3" stroke-linejoin="round"/>
<circle cx="41.3" cy="520.2" r="2.8" fill="#f096f0"/>
<circle cx="75.0" cy="491.5" r="2.8" fill="#f096f0"/>
<circle cx="108.8" cy="459.1" r="2.8" fill="#f096f0"/>
<circle cx="142.6" cy="431.8" r="2.8" fill="#f096f0"/>
<circle cx="174.8" cy="417.5" r="2.8" fill="#f096f0"/>
<circle cx="210.7" cy="476.6" r="2.8" fill="#f096f0"/>
<circle cx="245.0" cy="481.3" r="2.8" fill="#f096f0"/>
<circle cx="278.8" cy="483.6" r="2.8" fill="#f096f0"/>
<polyline points="41.3,479.4 75.0,469.8 108.8,459.1 142.6,458.5 174.8,440.0 210.7,458.3 245.0,460.2 278.8,479.7" fill="none" stroke="#22d4d8" stroke-width="1.7" stroke-linejoin="round"/>
<circle cx="41.3" cy="479.4" r="2.6" fill="#22d4d8"/>
<circle cx="75.0" cy="469.8" r="2.6" fill="#22d4d8"/>
<circle cx="108.8" cy="459.1" r="2.6" fill="#22d4d8"/>
<circle cx="142.6" cy="458.5" r="2.6" fill="#22d4d8"/>
<circle cx="174.8" cy="440.0" r="2.6" fill="#22d4d8"/>
<circle cx="210.7" cy="458.3" r="2.6" fill="#22d4d8"/>
<circle cx="245.0" cy="460.2" r="2.6" fill="#22d4d8"/>
<circle cx="278.8" cy="479.7" r="2.6" fill="#22d4d8"/>
<polyline points="41.3,556.2 75.0,551.1 108.8,542.7 142.6,542.7 174.8,536.5 210.7,543.5 245.0,542.7 278.8,554.8" fill="none" stroke="#2ecf4e" stroke-width="1.3" stroke-linejoin="round"/>
<polygon points="41.3,553.2 42.1,555.1 44.2,555.3 42.6,556.6 43.1,558.6 41.3,557.6 39.5,558.6 40.0,556.6 38.4,555.3 40.5,555.1" fill="none" stroke="#2ecf4e" stroke-width="0.8"/>
<polygon points="75.0,548.1 75.8,550.0 77.9,550.2 76.3,551.5 76.8,553.5 75.0,552.5 73.2,553.5 73.7,551.5 72.1,550.2 74.2,550.0" fill="none" stroke="#2ecf4e" stroke-width="0.8"/>
<polygon points="108.8,539.7 109.6,541.6 111.7,541.8 110.1,543.1 110.6,545.1 108.8,544.1 107.0,545.1 107.5,543.1 105.9,541.8 108.0,541.6" fill="none" stroke="#2ecf4e" stroke-width="0.8"/>
<polygon points="142.6,539.7 143.4,541.6 145.5,541.8 143.9,543.1 144.4,545.1 142.6,544.1 140.8,545.1 141.3,543.1 139.7,541.8 141.8,541.6" fill="none" stroke="#2ecf4e" stroke-width="0.8"/>
<polygon points="174.8,533.5 175.6,535.4 177.7,535.6 176.1,536.9 176.6,538.9 174.8,537.9 173.0,538.9 173.5,536.9 171.9,535.6 174.0,535.4" fill="none" stroke="#2ecf4e" stroke-width="0.8"/>
<polygon points="210.7,540.5 211.5,542.4 213.6,542.6 212.0,543.9 212.5,545.9 210.7,544.9 208.9,545.9 209.4,543.9 207.8,542.6 209.9,542.4" fill="none" stroke="#2ecf4e" stroke-width="0.8"/>
<polygon points="245.0,539.7 245.8,541.6 247.9,541.8 246.3,543.1 246.8,545.1 245.0,544.1 243.2,545.1 243.7,543.1 242.1,541.8 244.2,541.6" fill="none" stroke="#2ecf4e" stroke-width="0.8"/>
<polygon points="278.8,551.8 279.6,553.7 281.7,553.9 280.1,555.2 280.6,557.2 278.8,556.1 277.0,557.2 277.5,555.2 275.9,553.9 278.0,553.7" fill="none" stroke="#2ecf4e" stroke-width="0.8"/>
<polyline points="41.3,554.2 75.0,551.1 108.8,539.0 142.6,539.0 174.8,530.0 210.7,543.0 245.0,539.9 278.8,542.1" fill="none" stroke="#2233dd" stroke-width="1.3" stroke-linejoin="round"/>
<polygon points="41.3,551.0 44.5,556.4 38.1,556.4" fill="#2233dd"/>
<polygon points="75.0,547.9 78.2,553.3 71.8,553.3" fill="#2233dd"/>
<polygon points="108.8,535.8 112.0,541.2 105.6,541.2" fill="#2233dd"/>
<polygon points="142.6,535.8 145.8,541.2 139.4,541.2" fill="#2233dd"/>
<polygon points="174.8,526.8 178.0,532.2 171.6,532.2" fill="#2233dd"/>
<polygon points="210.7,539.8 213.9,545.2 207.5,545.2" fill="#2233dd"/>
<polygon points="245.0,536.7 248.2,542.1 241.8,542.1" fill="#2233dd"/>
<polygon points="278.8,538.9 282.0,544.3 275.6,544.3" fill="#2233dd"/>
<polyline points="41.3,549.2 75.0,545.0 108.8,554.0 142.6,534.5 174.8,544.4 210.7,548.9 245.0,550.9 278.8,551.1" fill="none" stroke="#e0231f" stroke-width="1.2" stroke-linejoin="round"/>
<polygon points="41.3,546.2 44.3,549.2 41.3,552.2 38.3,549.2" fill="#e0231f"/>
<polygon points="75.0,542.0 78.0,545.0 75.0,548.0 72.0,545.0" fill="#e0231f"/>
<polygon points="108.8,551.0 111.8,554.0 108.8,557.0 105.8,554.0" fill="#e0231f"/>
<polygon points="142.6,531.5 145.6,534.5 142.6,537.5 139.6,534.5" fill="#e0231f"/>
<polygon points="174.8,541.4 177.8,544.4 174.8,547.4 171.8,544.4" fill="#e0231f"/>
<polygon points="210.7,545.9 213.7,548.9 210.7,551.9 207.7,548.9" fill="#e0231f"/>
<polygon points="245.0,547.9 248.0,550.9 245.0,553.9 242.0,550.9" fill="#e0231f"/>
<polygon points="278.8,548.1 281.8,551.1 278.8,554.1 275.8,551.1" fill="#e0231f"/>
<rect x="31.5" y="394.2" width="274.5" height="170.3" fill="none" stroke="#222" stroke-width="1.6" stroke-linejoin="round"/>
<line x1="27.0" y1="398.2" x2="31.5" y2="398.2" stroke="#222" stroke-width="1.1"/>
<line x1="28.5" y1="424.0" x2="31.5" y2="424.0" stroke="#222" stroke-width="1.1"/>
<line x1="27.0" y1="449.6" x2="31.5" y2="449.6" stroke="#222" stroke-width="1.1"/>
<line x1="28.5" y1="475.3" x2="31.5" y2="475.3" stroke="#222" stroke-width="1.1"/>
<line x1="27.0" y1="500.9" x2="31.5" y2="500.9" stroke="#222" stroke-width="1.1"/>
<line x1="28.5" y1="526.5" x2="31.5" y2="526.5" stroke="#222" stroke-width="1.1"/>
<line x1="27.0" y1="552.0" x2="31.5" y2="552.0" stroke="#222" stroke-width="1.1"/>
<line x1="41.0" y1="564.5" x2="41.0" y2="569.0" stroke="#222" stroke-width="1.1"/>
<line x1="74.2" y1="564.5" x2="74.2" y2="567.3" stroke="#222" stroke-width="1.1"/>
<line x1="107.5" y1="564.5" x2="107.5" y2="569.0" stroke="#222" stroke-width="1.1"/>
<line x1="140.8" y1="564.5" x2="140.8" y2="567.3" stroke="#222" stroke-width="1.1"/>
<line x1="174.0" y1="564.5" x2="174.0" y2="569.0" stroke="#222" stroke-width="1.1"/>
<line x1="207.2" y1="564.5" x2="207.2" y2="567.3" stroke="#222" stroke-width="1.1"/>
<line x1="240.5" y1="564.5" x2="240.5" y2="569.0" stroke="#222" stroke-width="1.1"/>
<line x1="273.8" y1="564.5" x2="273.8" y2="567.3" stroke="#222" stroke-width="1.1"/>
<text x="42.0" y="582" font-size="10" fill="#222" text-anchor="middle" font-family="Liberation Sans, sans-serif" stroke="#222" stroke-width="0.28">0.0</text>
<text x="108.5" y="582" font-size="10" fill="#222" text-anchor="middle" font-family="Liberation Sans, sans-serif" stroke="#222" stroke-width="0.28">0.1</text>
<text x="175.0" y="582" font-size="10" fill="#222" text-anchor="middle" font-family="Liberation Sans, sans-serif" stroke="#222" stroke-width="0.28">0.2</text>
<text x="241.5" y="582" font-size="10" fill="#222" text-anchor="middle" font-family="Liberation Sans, sans-serif" stroke="#222" stroke-width="0.28">0.3</text>
<text x="302.3" y="582" font-size="10" fill="#222" text-anchor="middle" font-family="Liberation Sans, sans-serif" stroke="#222" stroke-width="0.28">0.4</text>
<text x="184.3" y="594" font-size="10" fill="#222" text-anchor="middle" font-family="Liberation Sans, sans-serif" stroke="#222" stroke-width="0.28">Compression (%)</text>
<text transform="translate(17.6 477.6) rotate(-90)" font-size="10" fill="#222" text-anchor="middle" font-family="Liberation Sans, sans-serif" stroke="#222" stroke-width="0.28">Intensity (a.u.)</text>
<line x1="214.3" y1="405.6" x2="223.3" y2="405.6" stroke="#22d4d8" stroke-width="1.1" opacity="0.85"/>
<line x1="232.3" y1="405.6" x2="241.6" y2="405.6" stroke="#22d4d8" stroke-width="1.1" opacity="0.85"/>
<circle cx="227.8" cy="405.6" r="1.9" fill="#22d4d8"/>
<text x="243.1" y="409.1" font-size="9.6" fill="#222" font-family="Liberation Sans, sans-serif" stroke="#222" stroke-width="0.28">#1</text>
<line x1="214.3" y1="420.3" x2="223.3" y2="420.3" stroke="#2ecf4e" stroke-width="1.1" opacity="0.85"/>
<line x1="232.3" y1="420.3" x2="241.6" y2="420.3" stroke="#2ecf4e" stroke-width="1.1" opacity="0.85"/>
<polygon points="227.8,417.5 228.5,419.3 230.4,419.4 229.0,420.7 229.4,422.5 227.8,421.5 226.2,422.5 226.6,420.7 225.2,419.4 227.1,419.3" fill="none" stroke="#2ecf4e" stroke-width="0.8"/>
<text x="243.1" y="423.8" font-size="9.6" fill="#222" font-family="Liberation Sans, sans-serif" stroke="#222" stroke-width="0.28">#2</text>
<line x1="214.3" y1="435.2" x2="223.3" y2="435.2" stroke="#2233dd" stroke-width="1.1" opacity="0.85"/>
<line x1="232.3" y1="435.2" x2="241.6" y2="435.2" stroke="#2233dd" stroke-width="1.1" opacity="0.85"/>
<polygon points="227.8,432.3 230.7,437.2 224.9,437.2" fill="#2233dd"/>
<text x="243.1" y="438.7" font-size="9.6" fill="#222" font-family="Liberation Sans, sans-serif" stroke="#222" stroke-width="0.28">#3</text>
<line x1="214.3" y1="449.3" x2="223.3" y2="449.3" stroke="#f0922e" stroke-width="1.1" opacity="0.85"/>
<line x1="232.3" y1="449.3" x2="241.6" y2="449.3" stroke="#f0922e" stroke-width="1.1" opacity="0.85"/>
<polygon points="227.8,446.7 228.5,448.4 230.2,448.5 228.9,449.7 229.3,451.4 227.8,450.5 226.3,451.4 226.7,449.7 225.4,448.5 227.1,448.4" fill="#f0922e" stroke="none" stroke-width="0.8"/>
<text x="243.1" y="452.8" font-size="9.6" fill="#222" font-family="Liberation Sans, sans-serif" stroke="#222" stroke-width="0.28">#4</text>
<line x1="260.0" y1="405.6" x2="268.7" y2="405.6" stroke="#f096f0" stroke-width="1.1" opacity="0.85"/>
<line x1="277.7" y1="405.6" x2="286.7" y2="405.6" stroke="#f096f0" stroke-width="1.1" opacity="0.85"/>
<circle cx="273.2" cy="405.6" r="2.6" fill="#f096f0"/>
<text x="287.8" y="409.1" font-size="9.6" fill="#222" font-family="Liberation Sans, sans-serif" stroke="#222" stroke-width="0.28">#5</text>
<line x1="260.0" y1="420.3" x2="268.7" y2="420.3" stroke="#a244e2" stroke-width="1.1" opacity="0.85"/>
<line x1="277.7" y1="420.3" x2="286.7" y2="420.3" stroke="#a244e2" stroke-width="1.1" opacity="0.85"/>
<path d="M270.9 418.0l4.6 4.6M270.9 422.6l4.6 -4.6" stroke="#a244e2" stroke-width="1"/>
<text x="287.8" y="423.8" font-size="9.6" fill="#222" font-family="Liberation Sans, sans-serif" stroke="#222" stroke-width="0.28">#6</text>
<line x1="260.0" y1="435.2" x2="268.7" y2="435.2" stroke="#e0231f" stroke-width="1.1" opacity="0.85"/>
<line x1="277.7" y1="435.2" x2="286.7" y2="435.2" stroke="#e0231f" stroke-width="1.1" opacity="0.85"/>
<polygon points="273.2,432.4 276.0,435.2 273.2,438.0 270.4,435.2" fill="#e0231f"/>
<text x="287.8" y="438.7" font-size="9.6" fill="#222" font-family="Liberation Sans, sans-serif" stroke="#222" stroke-width="0.28">#7</text>
<line x1="260.0" y1="449.3" x2="268.7" y2="449.3" stroke="#111111" stroke-width="1.1" opacity="0.85"/>
<line x1="277.7" y1="449.3" x2="286.7" y2="449.3" stroke="#111111" stroke-width="1.1" opacity="0.85"/>
<circle cx="273.2" cy="449.3" r="1.6" fill="#111111"/>
<text x="287.8" y="452.8" font-size="9.6" fill="#222" font-family="Liberation Sans, sans-serif" stroke="#222" stroke-width="0.28">#8</text>
<g clip-path="url(#clipE)">
<polyline points="350.0,559.6 352.4,559.5 354.9,559.5 357.4,559.5 359.8,559.4 362.2,559.4 364.7,559.4 367.2,559.4 369.6,559.3 372.1,559.3 374.5,559.3 377.0,559.2 379.4,559.2 381.9,559.2 384.3,559.2 386.8,559.1 389.2,559.1 391.7,559.1 394.1,559.1 396.6,559.0 399.0,559.0 401.5,559.0 403.9,558.9 406.4,558.9 408.8,558.9 411.3,558.9 413.7,558.8 416.2,558.8 418.6,558.8 421.1,558.7 423.5,558.7 426.0,558.7 428.4,558.7 430.9,558.6 433.3,558.6 435.8,558.6 438.2,558.5 440.7,558.5 443.1,558.5 445.6,558.5 448.0,558.4 450.5,558.4 452.9,558.4 455.4,558.3 457.8,558.3 460.3,558.3 462.7,558.3 465.2,558.2 467.6,558.2 470.1,558.2 472.5,558.1 475.0,558.1 477.4,558.1 479.9,558.1 482.3,558.0 484.8,558.0 487.2,557.9 489.7,557.7 492.1,557.4 494.6,556.9 497.0,556.2 499.5,555.5 501.9,554.6 504.4,553.6 506.8,552.4 509.3,551.1 511.7,549.7 514.2,548.2 516.6,546.5 519.1,544.7 521.5,542.7 524.0,540.7 526.4,538.5 528.9,536.2 531.3,533.7 533.8,531.1 536.2,528.4 538.7,525.6 541.1,522.6 543.6,519.5 546.0,516.3 548.5,512.9 550.9,509.4 553.4,505.8 555.8,502.1 558.3,498.2 560.7,494.3 563.2,490.1 565.6,485.9 568.1,481.5 570.5,477.0 573.0,472.4 575.4,467.7 577.9,462.8 580.3,457.8 582.8,452.7 585.2,447.4 587.7,442.1 590.1,436.6 592.6,430.9 595.0,425.2 597.5,419.3" fill="none" stroke="#f5ee1a" stroke-width="1.3"/>
<polyline points="350.0,559.6 352.4,559.5 354.9,559.5 357.4,559.5 359.8,559.4 362.2,559.4 364.7,559.4 367.2,559.4 369.6,559.3 372.1,559.3 374.5,559.3 377.0,559.2 379.4,559.2 381.9,559.2 384.3,559.2 386.8,559.1 389.2,559.1 391.7,559.1 394.1,559.1 396.6,559.0 399.0,559.0 401.5,559.0 403.9,558.9 406.4,558.9 408.8,558.9 411.3,558.9 413.7,558.8 416.2,558.8 418.6,558.8 421.1,558.7 423.5,558.7 426.0,558.7 428.4,558.7 430.9,558.6 433.3,558.6 435.8,558.6 438.2,558.5 440.7,558.5 443.1,558.5 445.6,558.5 448.0,558.4 450.5,558.4 452.9,558.4 455.4,558.3 457.8,558.3 460.3,558.3 462.7,558.3 465.2,558.2 467.6,558.2 470.1,558.2 472.5,558.1 475.0,558.1 477.4,558.1 479.9,558.1 482.3,558.0 484.8,558.0 487.2,558.0 489.7,557.9 492.1,557.7 494.6,557.5 497.0,557.2 499.5,556.9 501.9,556.4 504.4,555.9 506.8,555.3 509.3,554.6 511.7,553.8 514.2,553.0 516.6,552.0 519.1,551.0 521.5,549.9 524.0,548.7 526.4,547.4 528.9,546.0 531.3,544.5 533.8,543.0 536.2,541.3 538.7,539.6 541.1,537.7 543.6,535.8 546.0,533.7 548.5,531.6 550.9,529.3 553.4,527.0 555.8,524.6 558.3,522.1 560.7,519.4 563.2,516.7 565.6,513.9 568.1,511.0 570.5,507.9 573.0,504.8 575.4,501.6 577.9,498.3 580.3,494.8 582.8,491.3 585.2,487.7 587.7,483.9 590.1,480.1 592.6,476.1 595.0,472.1 597.5,467.9" fill="none" stroke="#111111" stroke-width="1.3"/>
<polyline points="350.0,559.6 352.4,559.5 354.9,559.5 357.4,559.5 359.8,559.4 362.2,559.4 364.7,559.4 367.2,559.4 369.6,559.3 372.1,559.3 374.5,559.3 377.0,559.2 379.4,559.2 381.9,559.2 384.3,559.2 386.8,559.1 389.2,559.1 391.7,559.1 394.1,559.1 396.6,559.0 399.0,559.0 401.5,559.0 403.9,558.9 406.4,558.9 408.8,558.9 411.3,558.9 413.7,558.8 416.2,558.8 418.6,558.8 421.1,558.7 423.5,558.7 426.0,558.7 428.4,558.7 430.9,558.6 433.3,558.6 435.8,558.6 438.2,558.5 440.7,558.5 443.1,558.5 445.6,558.5 448.0,558.4 450.5,558.4 452.9,558.4 455.4,558.3 457.8,558.3 460.3,558.3 462.7,558.3 465.2,558.2 467.6,558.2 470.1,558.2 472.5,558.1 475.0,558.1 477.4,558.1 479.9,558.1 482.3,558.0 484.8,558.0 487.2,558.0 489.7,557.9 492.1,557.7 494.6,557.4 497.0,557.0 499.5,556.5 501.9,556.0 504.4,555.3 506.8,554.5 509.3,553.6 511.7,552.6 514.2,551.5 516.6,550.3 519.1,549.0 521.5,547.5 524.0,546.0 526.4,544.3 528.9,542.5 531.3,540.6 533.8,538.5 536.2,536.4 538.7,534.1 541.1,531.7 543.6,529.2 546.0,526.6 548.5,523.8 550.9,520.9 553.4,517.9 555.8,514.7 558.3,511.5 560.7,508.1 563.2,504.5 565.6,500.9 568.1,497.1 570.5,493.2 573.0,489.1 575.4,485.0 577.9,480.7 580.3,476.2 582.8,471.6 585.2,466.9 587.7,462.1 590.1,457.1 592.6,452.0 595.0,446.7 597.5,441.4" fill="none" stroke="#ef3b3b" stroke-width="1.3"/>
<polyline points="350.0,559.6 352.4,559.5 354.9,559.5 357.4,559.5 359.8,559.4 362.2,559.4 364.7,559.4 367.2,559.4 369.6,559.3 372.1,559.3 374.5,559.3 377.0,559.2 379.4,559.2 381.9,559.2 384.3,559.2 386.8,559.1 389.2,559.1 391.7,559.1 394.1,559.1 396.6,559.0 399.0,559.0 401.5,559.0 403.9,558.9 406.4,558.9 408.8,558.9 411.3,558.9 413.7,558.8 416.2,558.8 418.6,558.8 421.1,558.7 423.5,558.7 426.0,558.7 428.4,558.7 430.9,558.6 433.3,558.6 435.8,558.6 438.2,558.5 440.7,558.5 443.1,558.5 445.6,558.5 448.0,558.4 450.5,558.4 452.9,558.4 455.4,558.3 457.8,558.3 460.3,558.3 462.7,558.3 465.2,558.2 467.6,558.2 470.1,558.2 472.5,558.1 475.0,558.1 477.4,558.1 479.9,558.1 482.3,558.0 484.8,558.0 487.2,558.0 489.7,557.8 492.1,557.6 494.6,557.3 497.0,556.8 499.5,556.3 501.9,555.6 504.4,554.8 506.8,553.9 509.3,552.9 511.7,551.8 514.2,550.5 516.6,549.2 519.1,547.7 521.5,546.1 524.0,544.3 526.4,542.5 528.9,540.5 531.3,538.4 533.8,536.2 536.2,533.8 538.7,531.3 541.1,528.7 543.6,526.0 546.0,523.1 548.5,520.1 550.9,517.0 553.4,513.8 555.8,510.4 558.3,506.9 560.7,503.2 563.2,499.4 565.6,495.5 568.1,491.5 570.5,487.3 573.0,483.0 575.4,478.6 577.9,474.0 580.3,469.3 582.8,464.4 585.2,459.4 587.7,454.3 590.1,449.1 592.6,443.7 595.0,438.2 597.5,432.5" fill="none" stroke="#2fd64a" stroke-width="1.3"/>
<polyline points="350.0,559.6 352.4,559.5 354.9,559.5 357.4,559.5 359.8,559.4 362.2,559.4 364.7,559.4 367.2,559.4 369.6,559.3 372.1,559.3 374.5,559.3 377.0,559.2 379.4,559.2 381.9,559.2 384.3,559.2 386.8,559.1 389.2,559.1 391.7,559.1 394.1,559.1 396.6,559.0 399.0,559.0 401.5,559.0 403.9,558.9 406.4,558.9 408.8,558.9 411.3,558.9 413.7,558.8 416.2,558.8 418.6,558.8 421.1,558.7 423.5,558.7 426.0,558.7 428.4,558.7 430.9,558.6 433.3,558.6 435.8,558.6 438.2,558.5 440.7,558.5 443.1,558.5 445.6,558.5 448.0,558.4 450.5,558.4 452.9,558.4 455.4,558.3 457.8,558.3 460.3,558.3 462.7,558.3 465.2,558.2 467.6,558.2 470.1,558.2 472.5,558.1 475.0,558.1 477.4,558.1 479.9,558.1 482.3,558.0 484.8,558.0 487.2,557.9 489.7,557.5 492.1,557.0 494.6,556.3 497.0,555.5 499.5,554.4 501.9,553.3 504.4,551.9 506.8,550.5 509.3,548.8 511.7,547.1 514.2,545.2 516.6,543.1 519.1,540.9 521.5,538.6 524.0,536.2 526.4,533.6 528.9,530.8 531.3,528.0 533.8,525.0 536.2,521.9 538.7,518.6 541.1,515.3 543.6,511.7 546.0,508.1 548.5,504.4 550.9,500.5 553.4,496.5 555.8,492.4 558.3,488.1 560.7,483.7 563.2,479.2 565.6,474.6 568.1,469.9 570.5,465.0 573.0,460.1 575.4,455.0 577.9,449.8 580.3,444.4 582.8,439.0 585.2,433.4 587.7,427.8 590.1,422.0 592.6,416.1 595.0,410.0 597.5,403.9" fill="none" stroke="#f09a30" stroke-width="1.3"/>
<polyline points="350.0,559.6 352.4,559.5 354.9,559.5 357.4,559.5 359.8,559.4 362.2,559.4 364.7,559.4 367.2,559.4 369.6,559.3 372.1,559.3 374.5,559.3 377.0,559.2 379.4,559.2 381.9,559.2 384.3,559.2 386.8,559.1 389.2,559.1 391.7,559.1 394.1,559.1 396.6,559.0 399.0,559.0 401.5,559.0 403.9,558.9 406.4,558.9 408.8,558.9 411.3,558.9 413.7,558.8 416.2,558.8 418.6,558.8 421.1,558.7 423.5,558.7 426.0,558.7 428.4,558.7 430.9,558.6 433.3,558.6 435.8,558.6 438.2,558.5 440.7,558.5 443.1,558.5 445.6,558.5 448.0,558.4 450.5,558.4 452.9,558.4 455.4,558.3 457.8,558.3 460.3,558.3 462.7,558.3 465.2,558.2 467.6,558.2 470.1,558.2 472.5,558.1 475.0,558.1 477.4,558.1 479.9,558.1 482.3,558.0 484.8,558.0 487.2,557.8 489.7,557.5 492.1,556.9 494.6,556.1 497.0,555.1 499.5,554.0 501.9,552.7 504.4,551.2 506.8,549.6 509.3,547.8 511.7,545.9 514.2,543.8 516.6,541.6 519.1,539.2 521.5,536.7 524.0,534.1 526.4,531.3 528.9,528.4 531.3,525.3 533.8,522.1 536.2,518.8 538.7,515.3 541.1,511.7 543.6,508.0 546.0,504.1 548.5,500.1 550.9,496.0 553.4,491.8 555.8,487.4 558.3,482.9 560.7,478.3 563.2,473.6 565.6,468.7 568.1,463.7 570.5,458.6 573.0,453.4 575.4,448.0 577.9,442.6 580.3,437.0 582.8,431.3 585.2,425.4 587.7,419.5 590.1,413.4 592.6,407.3 595.0,401.0 597.5,394.6" fill="none" stroke="#3fe0e6" stroke-width="1.3"/>
<polyline points="350.0,559.6 352.4,559.5 354.9,559.5 357.4,559.5 359.8,559.4 362.2,559.4 364.7,559.4 367.2,559.4 369.6,559.3 372.1,559.3 374.5,559.3 377.0,559.2 379.4,559.2 381.9,559.2 384.3,559.2 386.8,559.1 389.2,559.1 391.7,559.1 394.1,559.1 396.6,559.0 399.0,559.0 401.5,559.0 403.9,558.9 406.4,558.9 408.8,558.9 411.3,558.9 413.7,558.8 416.2,558.8 418.6,558.8 421.1,558.7 423.5,558.7 426.0,558.7 428.4,558.7 430.9,558.6 433.3,558.6 435.8,558.6 438.2,558.5 440.7,558.5 443.1,558.5 445.6,558.5 448.0,558.4 450.5,558.4 452.9,558.4 455.4,558.3 457.8,558.3 460.3,558.3 462.7,558.3 465.2,558.2 467.6,558.2 470.1,558.2 472.5,558.1 475.0,558.1 477.4,558.1 479.9,558.1 482.3,558.0 484.8,558.0 487.2,557.9 489.7,557.7 492.1,557.4 494.6,556.9 497.0,556.2 499.5,555.5 501.9,554.6 504.4,553.6 506.8,552.4 509.3,551.1 511.7,549.7 514.2,548.2 516.6,546.5 519.1,544.7 521.5,542.7 524.0,540.6 526.4,538.4 528.9,536.1 531.3,533.6 533.8,531.1 536.2,528.3 538.7,525.5 541.1,522.5 543.6,519.4 546.0,516.2 548.5,512.8 550.9,509.3 553.4,505.7 555.8,502.0 558.3,498.1 560.7,494.1 563.2,490.0 565.6,485.7 568.1,481.4 570.5,476.9 573.0,472.2 575.4,467.5 577.9,462.6 580.3,457.6 582.8,452.4 585.2,447.2 587.7,441.8 590.1,436.3 592.6,430.6 595.0,424.9 597.5,419.0" fill="none" stroke="#2a2ad0" stroke-width="1.3"/>
<polyline points="350.0,559.6 352.4,559.5 354.9,559.5 357.4,559.5 359.8,559.4 362.2,559.4 364.7,559.4 367.2,559.4 369.6,559.3 372.1,559.3 374.5,559.3 377.0,559.2 379.4,559.2 381.9,559.2 384.3,559.2 386.8,559.1 389.2,559.1 391.7,559.1 394.1,559.1 396.6,559.0 399.0,559.0 401.5,559.0 403.9,558.9 406.4,558.9 408.8,558.9 411.3,558.9 413.7,558.8 416.2,558.8 418.6,558.8 421.1,558.7 423.5,558.7 426.0,558.7 428.4,558.7 430.9,558.6 433.3,558.6 435.8,558.6 438.2,558.5 440.7,558.5 443.1,558.5 445.6,558.5 448.0,558.4 450.5,558.4 452.9,558.4 455.4,558.3 457.8,558.3 460.3,558.3 462.7,558.3 465.2,558.2 467.6,558.2 470.1,558.2 472.5,558.1 475.0,558.1 477.4,558.1 479.9,558.1 482.3,558.0 484.8,558.0 487.2,557.9 489.7,557.7 492.1,557.3 494.6,556.8 497.0,556.1 499.5,555.3 501.9,554.4 504.4,553.3 506.8,552.1 509.3,550.8 511.7,549.3 514.2,547.7 516.6,546.0 519.1,544.1 521.5,542.1 524.0,540.0 526.4,537.7 528.9,535.3 531.3,532.8 533.8,530.2 536.2,527.4 538.7,524.5 541.1,521.4 543.6,518.3 546.0,515.0 548.5,511.6 550.9,508.0 553.4,504.4 555.8,500.6 558.3,496.6 560.7,492.6 563.2,488.4 565.6,484.1 568.1,479.7 570.5,475.1 573.0,470.4 575.4,465.6 577.9,460.7 580.3,455.6 582.8,450.5 585.2,445.1 587.7,439.7 590.1,434.2 592.6,428.5 595.0,422.7 597.5,416.8" fill="none" stroke="#d11fd1" stroke-width="1.3"/>
<polyline points="350.0,559.6 352.4,559.5 354.9,559.5 357.4,559.5 359.8,559.4 362.2,559.4 364.7,559.4 367.2,559.4 369.6,559.3 372.1,559.3 374.5,559.3 377.0,559.2 379.4,559.2 381.9,559.2 384.3,559.2 386.8,559.1 389.2,559.1 391.7,559.1 394.1,559.1 396.6,559.0 399.0,559.0 401.5,559.0 403.9,558.9 406.4,558.9 408.8,558.9 411.3,558.9 413.7,558.8 416.2,558.8 418.6,558.8 421.1,558.7 423.5,558.7 426.0,558.7 428.4,558.7 430.9,558.6 433.3,558.6 435.8,558.6 438.2,558.5 440.7,558.5 443.1,558.5 445.6,558.5 448.0,558.4 450.5,558.4 452.9,558.4 455.4,558.3 457.8,558.3 460.3,558.3 462.7,558.3 465.2,558.2 467.6,558.2 470.1,558.2 472.5,558.1 475.0,558.1 477.4,558.1 479.9,558.1 482.3,558.0 484.8,558.0 487.2,557.9 489.7,557.7 492.1,557.4 494.6,557.0 497.0,556.4 499.5,555.7 501.9,554.8 504.4,553.9 506.8,552.8 509.3,551.5 511.7,550.2 514.2,548.7 516.6,547.1 519.1,545.3 521.5,543.5 524.0,541.4 526.4,539.3 528.9,537.0 531.3,534.7 533.8,532.1 536.2,529.5 538.7,526.7 541.1,523.8 543.6,520.8 546.0,517.6 548.5,514.3 550.9,510.9 553.4,507.3 555.8,503.6 558.3,499.8 560.7,495.9 563.2,491.8 565.6,487.6 568.1,483.3 570.5,478.8 573.0,474.2 575.4,469.5 577.9,464.6 580.3,459.7 582.8,454.5 585.2,449.3 587.7,443.9 590.1,438.4 592.6,432.8 595.0,427.1 597.5,421.2" fill="none" stroke="#a32a2a" stroke-width="1.3"/>
</g>
<rect x="350.0" y="392.7" width="245.5" height="173.6" fill="none" stroke="#222" stroke-width="1.6" stroke-linejoin="round"/>
<line x1="345.5" y1="558.0" x2="350.0" y2="558.0" stroke="#222" stroke-width="1.1"/>
<line x1="347.2" y1="542.4" x2="350.0" y2="542.4" stroke="#222" stroke-width="1.1"/>
<line x1="345.5" y1="526.8" x2="350.0" y2="526.8" stroke="#222" stroke-width="1.1"/>
<line x1="347.2" y1="511.1" x2="350.0" y2="511.1" stroke="#222" stroke-width="1.1"/>
<line x1="345.5" y1="495.5" x2="350.0" y2="495.5" stroke="#222" stroke-width="1.1"/>
<line x1="347.2" y1="479.9" x2="350.0" y2="479.9" stroke="#222" stroke-width="1.1"/>
<line x1="345.5" y1="464.2" x2="350.0" y2="464.2" stroke="#222" stroke-width="1.1"/>
<line x1="347.2" y1="448.6" x2="350.0" y2="448.6" stroke="#222" stroke-width="1.1"/>
<line x1="345.5" y1="433.0" x2="350.0" y2="433.0" stroke="#222" stroke-width="1.1"/>
<line x1="347.2" y1="417.4" x2="350.0" y2="417.4" stroke="#222" stroke-width="1.1"/>
<line x1="345.5" y1="401.8" x2="350.0" y2="401.8" stroke="#222" stroke-width="1.1"/>
<text x="336.3" y="561.6" font-size="10" fill="#222" text-anchor="middle" font-family="Liberation Sans, sans-serif" stroke="#222" stroke-width="0.28">0</text>
<text x="336.3" y="530.4" font-size="10" fill="#222" text-anchor="middle" font-family="Liberation Sans, sans-serif" stroke="#222" stroke-width="0.28">2</text>
<text x="336.3" y="499.1" font-size="10" fill="#222" text-anchor="middle" font-family="Liberation Sans, sans-serif" stroke="#222" stroke-width="0.28">4</text>
<text x="336.3" y="467.9" font-size="10" fill="#222" text-anchor="middle" font-family="Liberation Sans, sans-serif" stroke="#222" stroke-width="0.28">6</text>
<text x="336.3" y="436.6" font-size="10" fill="#222" text-anchor="middle" font-family="Liberation Sans, sans-serif" stroke="#222" stroke-width="0.28">8</text>
<text x="336.3" y="405.4" font-size="10" fill="#222" text-anchor="middle" font-family="Liberation Sans, sans-serif" stroke="#222" stroke-width="0.28">10</text>
<line x1="350.0" y1="566.3" x2="350.0" y2="570.8" stroke="#222" stroke-width="1.1"/>
<line x1="380.6" y1="566.3" x2="380.6" y2="569.1" stroke="#222" stroke-width="1.1"/>
<line x1="411.2" y1="566.3" x2="411.2" y2="570.8" stroke="#222" stroke-width="1.1"/>
<line x1="441.9" y1="566.3" x2="441.9" y2="569.1" stroke="#222" stroke-width="1.1"/>
<line x1="472.5" y1="566.3" x2="472.5" y2="570.8" stroke="#222" stroke-width="1.1"/>
<line x1="503.1" y1="566.3" x2="503.1" y2="569.1" stroke="#222" stroke-width="1.1"/>
<line x1="533.8" y1="566.3" x2="533.8" y2="570.8" stroke="#222" stroke-width="1.1"/>
<line x1="564.4" y1="566.3" x2="564.4" y2="569.1" stroke="#222" stroke-width="1.1"/>
<line x1="595.0" y1="566.3" x2="595.0" y2="570.8" stroke="#222" stroke-width="1.1"/>
<text x="348.0" y="583.3" font-size="10" fill="#222" text-anchor="middle" font-family="Liberation Sans, sans-serif" stroke="#222" stroke-width="0.28">-2</text>
<text x="411.2" y="583.3" font-size="10" fill="#222" text-anchor="middle" font-family="Liberation Sans, sans-serif" stroke="#222" stroke-width="0.28">1</text>
<text x="472.5" y="583.3" font-size="10" fill="#222" text-anchor="middle" font-family="Liberation Sans, sans-serif" stroke="#222" stroke-width="0.28">0</text>
<text x="531.8" y="583.3" font-size="10" fill="#222" text-anchor="middle" font-family="Liberation Sans, sans-serif" stroke="#222" stroke-width="0.28">-1</text>
<text x="595.0" y="583.3" font-size="10" fill="#222" text-anchor="middle" font-family="Liberation Sans, sans-serif" stroke="#222" stroke-width="0.28">2</text>
<text x="467.3" y="595" font-size="10" fill="#222" text-anchor="middle" font-family="Liberation Sans, sans-serif" stroke="#222" stroke-width="0.28">Voltage (V)</text>
<text transform="translate(326.5 479.7) rotate(-90)" font-size="9.6" fill="#222" text-anchor="middle" font-family="Liberation Sans, sans-serif" stroke="#222" stroke-width="0.28">Current (×10<tspan font-size="6.5" dy="-3.5">-3</tspan><tspan dy="3.5"> A)</tspan></text>
<line x1="357" y1="406.2" x2="385" y2="406.2" stroke="#111111" stroke-width="1.4"/>
<text x="390.5" y="409.9" font-size="10" fill="#222" font-family="Liberation Sans, sans-serif" stroke="#222" stroke-width="0.28">0.51%</text>
<line x1="357" y1="421.2" x2="385" y2="421.2" stroke="#ef3b3b" stroke-width="1.4"/>
<text x="390.5" y="424.9" font-size="10" fill="#222" font-family="Liberation Sans, sans-serif" stroke="#222" stroke-width="0.28">0.45%</text>
<line x1="357" y1="436.2" x2="385" y2="436.2" stroke="#2fd64a" stroke-width="1.4"/>
<text x="390.5" y="439.9" font-size="10" fill="#222" font-family="Liberation Sans, sans-serif" stroke="#222" stroke-width="0.28">0.38%</text>
<line x1="357" y1="451.2" x2="385" y2="451.2" stroke="#f09a30" stroke-width="1.4"/>
<text x="390.5" y="454.9" font-size="10" fill="#222" font-family="Liberation Sans, sans-serif" stroke="#222" stroke-width="0.28">0.32%</text>
<line x1="357" y1="466.2" x2="385" y2="466.2" stroke="#3fe0e6" stroke-width="1.4"/>
<text x="390.5" y="469.9" font-size="10" fill="#222" font-family="Liberation Sans, sans-serif" stroke="#222" stroke-width="0.28">0.25%</text>
<line x1="357" y1="481.2" x2="385" y2="481.2" stroke="#2a2ad0" stroke-width="1.4"/>
<text x="390.5" y="484.9" font-size="10" fill="#222" font-family="Liberation Sans, sans-serif" stroke="#222" stroke-width="0.28">0.19%</text>
<line x1="357" y1="496.2" x2="385" y2="496.2" stroke="#d11fd1" stroke-width="1.4"/>
<text x="390.5" y="499.9" font-size="10" fill="#222" font-family="Liberation Sans, sans-serif" stroke="#222" stroke-width="0.28">0.13%</text>
<line x1="357" y1="511.2" x2="385" y2="511.2" stroke="#f5ee1a" stroke-width="1.4"/>
<text x="390.5" y="514.9" font-size="10" fill="#222" font-family="Liberation Sans, sans-serif" stroke="#222" stroke-width="0.28">0.06%</text>
<line x1="357" y1="526.2" x2="385" y2="526.2" stroke="#a32a2a" stroke-width="1.4"/>
<text x="395.5" y="529.9" font-size="10" fill="#222" font-family="Liberation Sans, sans-serif" stroke="#222" stroke-width="0.28">0%</text>
<rect x="441" y="404.3" width="110.8" height="74.7" fill="#fff" stroke="#222" stroke-width="1.3"/>
<polyline points="447.3,442.8 459.7,442.4 471.8,442.4 484.2,438.2 496.5,413.7 508.7,418.6 520.8,448.2 533.2,453.3 545.5,470.1" fill="none" stroke="#333" stroke-width="1"/>
<circle cx="447.3" cy="442.8" r="1.8" fill="#ee3333"/>
<circle cx="459.7" cy="442.4" r="1.8" fill="#ee3333"/>
<circle cx="471.8" cy="442.4" r="1.8" fill="#ee3333"/>
<circle cx="484.2" cy="438.2" r="1.8" fill="#ee3333"/>
<circle cx="496.5" cy="413.7" r="1.8" fill="#ee3333"/>
<circle cx="508.7" cy="418.6" r="1.8" fill="#ee3333"/>
<circle cx="520.8" cy="448.2" r="1.8" fill="#ee3333"/>
<circle cx="533.2" cy="453.3" r="1.8" fill="#ee3333"/>
<circle cx="545.5" cy="470.1" r="1.8" fill="#ee3333"/>
<text x="482.5" y="468.5" font-size="9.6" fill="#222" text-anchor="middle" font-family="Liberation Sans, sans-serif" stroke="#222" stroke-width="0.28">V=1V</text>
<text transform="translate(435.5 439.5) rotate(-90)" font-size="9.6" fill="#222" text-anchor="middle" font-family="Liberation Sans, sans-serif" stroke="#222" stroke-width="0.28">Current</text>
<g fill="none" stroke="#ee82ee" stroke-width="1.3" stroke-dasharray="4,3">
<path d="M441 480.5 L533 513.5"/><path d="M551.5 480.5 L536 514.5"/>
<ellipse cx="533.7" cy="534" rx="13.6" ry="21.5"/>
</g>
<text x="6.5" y="17.6" font-size="12" font-weight="bold" fill="#111" font-family="Liberation Sans, sans-serif" stroke="#111" stroke-width="0.28">(a)</text><text x="319.0" y="17.8" font-size="12" font-weight="bold" fill="#111" font-family="Liberation Sans, sans-serif" stroke="#111" stroke-width="0.28">(b)</text><text x="319.0" y="215.7" font-size="12" font-weight="bold" fill="#111" font-family="Liberation Sans, sans-serif" stroke="#111" stroke-width="0.28">(c)</text><text x="6.5" y="385.6" font-size="12" font-weight="bold" fill="#111" font-family="Liberation Sans, sans-serif" stroke="#111" stroke-width="0.28">(d)</text><text x="318.6" y="391.0" font-size="12" font-weight="bold" fill="#111" font-family="Liberation Sans, sans-serif" stroke="#111" stroke-width="0.28">(e)</text>
</svg>
</body></html>
